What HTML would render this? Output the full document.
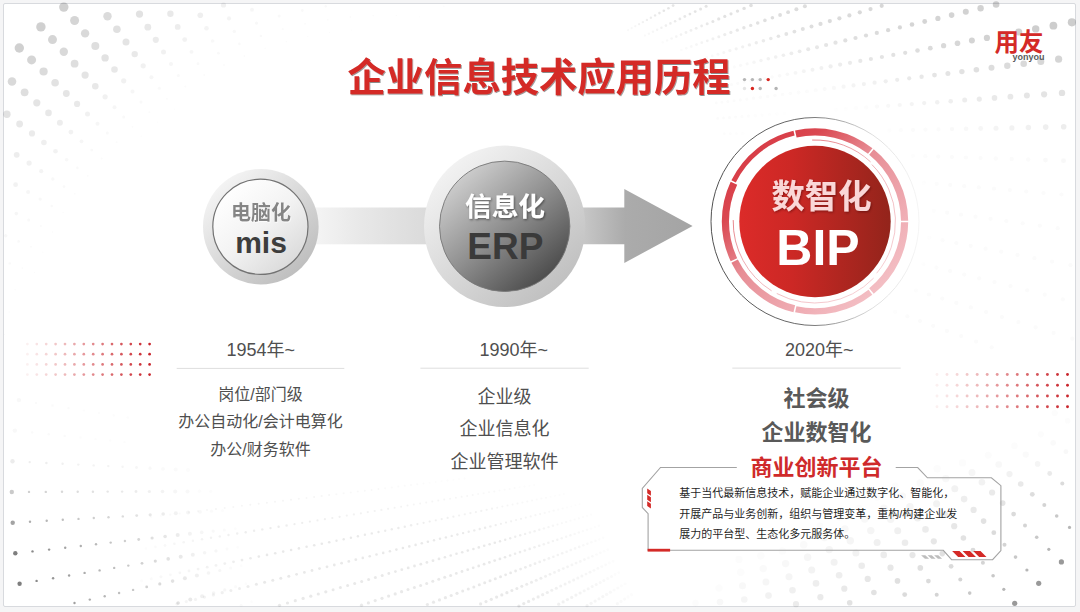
<!DOCTYPE html>
<html lang="zh"><head><meta charset="utf-8"><title>企业信息技术应用历程</title>
<style>
html,body{margin:0;padding:0;background:#f5f5f6;overflow:hidden;}
body{width:1080px;height:612px;position:relative;overflow:hidden;font-family:"Liberation Sans","Noto Sans CJK SC",sans-serif;}
#slide{position:absolute;left:3px;top:3px;width:1073px;height:603.5px;background:#fff;border:1px solid #d8dade;border-radius:2px;box-sizing:border-box;}
svg{position:absolute;left:0;top:0;}
.t{position:absolute;color:transparent;line-height:1.2;overflow:hidden;}
svg text{font-family:"Liberation Sans","Noto Sans CJK SC",sans-serif;}
</style></head><body>
<div id="slide"></div>
<svg width="1080" height="612" viewBox="0 0 1080 612">
<defs>
<linearGradient id="band" gradientUnits="userSpaceOnUse" x1="316" x2="428" y1="0" y2="0"><stop offset="0" stop-color="#f4f4f4"/><stop offset="0.4" stop-color="#e8e8e8"/><stop offset="1" stop-color="#dadada"/></linearGradient>
<linearGradient id="arrow" gradientUnits="userSpaceOnUse" x1="570" x2="693" y1="0" y2="0"><stop offset="0" stop-color="#d2d2d2"/><stop offset="0.12" stop-color="#c6c6c6"/><stop offset="0.45" stop-color="#ababab"/><stop offset="1" stop-color="#a4a4a4"/></linearGradient>
<linearGradient id="c1o" x1="0.15" y1="0.1" x2="0.85" y2="0.9"><stop offset="0" stop-color="#f5f5f5"/><stop offset="1" stop-color="#bdbdbd"/></linearGradient>
<linearGradient id="c1i" x1="0.15" y1="0.1" x2="0.85" y2="0.9"><stop offset="0" stop-color="#ffffff"/><stop offset="0.5" stop-color="#f3f3f3"/><stop offset="1" stop-color="#dadada"/></linearGradient>
<linearGradient id="c2o" x1="0.15" y1="0.1" x2="0.85" y2="0.9"><stop offset="0" stop-color="#f3f3f3"/><stop offset="1" stop-color="#bfbfbf"/></linearGradient>
<linearGradient id="c2i" x1="0.15" y1="0.1" x2="0.85" y2="0.9"><stop offset="0" stop-color="#cfcfcf"/><stop offset="0.5" stop-color="#8f8f8f"/><stop offset="1" stop-color="#4a4a4a"/></linearGradient>
<linearGradient id="disc" x1="0" x2="1" y1="0" y2="0"><stop offset="0" stop-color="#dc2b29"/><stop offset="0.35" stop-color="#cc2825"/><stop offset="1" stop-color="#93241b"/></linearGradient>
<linearGradient id="ring" gradientUnits="userSpaceOnUse" x1="750" y1="150" x2="885" y2="295"><stop offset="0" stop-color="#d83c46"/><stop offset="0.17" stop-color="#da4851"/><stop offset="0.42" stop-color="#e78d95"/><stop offset="0.8" stop-color="#f0b0b7"/><stop offset="1" stop-color="#f4c2c7"/></linearGradient>
<linearGradient id="oline" gradientUnits="userSpaceOnUse" x1="711" y1="0" x2="919" y2="0"><stop offset="0" stop-color="#3c3c3c"/><stop offset="0.45" stop-color="#5a5a5a"/><stop offset="0.78" stop-color="#dcdcdc"/><stop offset="1" stop-color="#f4f4f4"/></linearGradient>
<radialGradient id="halo"><stop offset="0.78" stop-color="#fff"/><stop offset="1" stop-color="#fff" stop-opacity="0"/></radialGradient>
<filter id="ts" x="-5%" y="-20%" width="110%" height="150%"><feDropShadow dx="0.8" dy="1" stdDeviation="0.7" flood-color="#000" flood-opacity="0.45"/></filter>
<filter id="ds" x="-10%" y="-20%" width="120%" height="150%"><feDropShadow dx="1" dy="1.2" stdDeviation="0.9" flood-color="#000" flood-opacity="0.45"/></filter>
<filter id="ds2" x="-10%" y="-20%" width="120%" height="150%"><feDropShadow dx="1" dy="1.2" stdDeviation="0.9" flood-color="#3a0000" flood-opacity="0.45"/></filter>
<filter id="ws" x="-10%" y="-20%" width="120%" height="150%"><feDropShadow dx="0.6" dy="0.8" stdDeviation="0.4" flood-color="#fff" flood-opacity="0.9"/></filter>
</defs>
<g fill="#4a4a4a"><circle cx="4.4" cy="334.4" r="0.6" fill-opacity="0.02"/><circle cx="9.1" cy="312.0" r="0.7" fill-opacity="0.02"/><circle cx="15.1" cy="289.8" r="0.8" fill-opacity="0.02"/><circle cx="34.6" cy="272.6" r="0.6" fill-opacity="0.02"/><circle cx="22.4" cy="268.1" r="0.9" fill-opacity="0.02"/><circle cx="9.7" cy="263.4" r="1.2" fill-opacity="0.03"/><circle cx="42.9" cy="252.1" r="0.7" fill-opacity="0.02"/><circle cx="31.0" cy="246.8" r="1.0" fill-opacity="0.02"/><circle cx="18.6" cy="241.4" r="1.3" fill-opacity="0.03"/><circle cx="5.7" cy="235.8" r="1.7" fill-opacity="0.04"/><circle cx="52.4" cy="232.0" r="0.8" fill-opacity="0.02"/><circle cx="40.8" cy="226.1" r="1.1" fill-opacity="0.02"/><circle cx="28.7" cy="219.9" r="1.5" fill-opacity="0.03"/><circle cx="16.3" cy="213.6" r="1.8" fill-opacity="0.05"/><circle cx="63.1" cy="212.6" r="0.8" fill-opacity="0.02"/><circle cx="51.8" cy="206.0" r="1.2" fill-opacity="0.03"/><circle cx="40.2" cy="199.1" r="1.6" fill-opacity="0.04"/><circle cx="28.1" cy="192.0" r="2.0" fill-opacity="0.05"/><circle cx="15.6" cy="184.7" r="2.4" fill-opacity="0.07"/><circle cx="74.9" cy="193.8" r="0.9" fill-opacity="0.02"/><circle cx="64.0" cy="186.6" r="1.3" fill-opacity="0.03"/><circle cx="52.8" cy="179.0" r="1.7" fill-opacity="0.04"/><circle cx="41.2" cy="171.2" r="2.1" fill-opacity="0.06"/><circle cx="29.1" cy="163.1" r="2.6" fill-opacity="0.08"/><circle cx="16.7" cy="154.8" r="2.9" fill-opacity="0.10"/><circle cx="87.8" cy="175.8" r="0.9" fill-opacity="0.02"/><circle cx="77.4" cy="167.9" r="1.3" fill-opacity="0.03"/><circle cx="66.6" cy="159.7" r="1.8" fill-opacity="0.04"/><circle cx="55.5" cy="151.2" r="2.3" fill-opacity="0.07"/><circle cx="43.9" cy="142.5" r="2.8" fill-opacity="0.09"/><circle cx="32.0" cy="133.4" r="3.1" fill-opacity="0.11"/><circle cx="19.6" cy="124.0" r="3.4" fill-opacity="0.13"/><circle cx="6.9" cy="114.2" r="3.7" fill-opacity="0.16"/><circle cx="101.7" cy="158.6" r="1.0" fill-opacity="0.02"/><circle cx="91.8" cy="150.1" r="1.4" fill-opacity="0.03"/><circle cx="81.5" cy="141.3" r="1.9" fill-opacity="0.05"/><circle cx="70.9" cy="132.1" r="2.4" fill-opacity="0.07"/><circle cx="59.9" cy="122.7" r="3.0" fill-opacity="0.10"/><circle cx="48.5" cy="112.9" r="3.3" fill-opacity="0.13"/><circle cx="36.8" cy="102.8" r="3.6" fill-opacity="0.15"/><circle cx="24.6" cy="92.3" r="3.9" fill-opacity="0.18"/><circle cx="12.0" cy="81.5" r="4.3" fill-opacity="0.21"/><circle cx="116.7" cy="142.2" r="1.0" fill-opacity="0.02"/><circle cx="107.3" cy="133.1" r="1.5" fill-opacity="0.03"/><circle cx="97.5" cy="123.7" r="2.0" fill-opacity="0.05"/><circle cx="87.5" cy="114.0" r="2.5" fill-opacity="0.08"/><circle cx="77.1" cy="103.9" r="3.1" fill-opacity="0.12"/><circle cx="66.3" cy="93.5" r="3.4" fill-opacity="0.14"/><circle cx="55.1" cy="82.7" r="3.8" fill-opacity="0.16"/><circle cx="43.6" cy="71.5" r="4.1" fill-opacity="0.20"/><circle cx="31.6" cy="59.9" r="4.5" fill-opacity="0.23"/><circle cx="19.3" cy="48.0" r="4.7" fill-opacity="0.26"/><circle cx="141.1" cy="136.1" r="0.6" fill-opacity="0.02"/><circle cx="132.5" cy="126.8" r="1.0" fill-opacity="0.02"/><circle cx="123.7" cy="117.1" r="1.5" fill-opacity="0.03"/><circle cx="114.5" cy="107.2" r="2.0" fill-opacity="0.05"/><circle cx="105.1" cy="96.8" r="2.6" fill-opacity="0.08"/><circle cx="95.3" cy="86.2" r="3.3" fill-opacity="0.13"/><circle cx="85.1" cy="75.1" r="3.6" fill-opacity="0.15"/><circle cx="74.6" cy="63.7" r="3.9" fill-opacity="0.18"/><circle cx="63.8" cy="51.8" r="4.2" fill-opacity="0.21"/><circle cx="52.5" cy="39.6" r="4.5" fill-opacity="0.23"/><circle cx="40.9" cy="26.9" r="4.7" fill-opacity="0.26"/><circle cx="157.3" cy="122.1" r="0.6" fill-opacity="0.02"/><circle cx="149.3" cy="112.3" r="1.0" fill-opacity="0.02"/><circle cx="141.0" cy="102.1" r="1.5" fill-opacity="0.03"/><circle cx="132.5" cy="91.6" r="2.0" fill-opacity="0.05"/><circle cx="123.7" cy="80.8" r="2.6" fill-opacity="0.08"/><circle cx="114.5" cy="69.5" r="3.3" fill-opacity="0.13"/><circle cx="105.1" cy="57.9" r="3.7" fill-opacity="0.16"/><circle cx="95.3" cy="45.9" r="4.0" fill-opacity="0.18"/><circle cx="85.1" cy="33.4" r="4.2" fill-opacity="0.21"/><circle cx="74.6" cy="20.5" r="4.5" fill-opacity="0.23"/><circle cx="63.8" cy="7.1" r="4.7" fill-opacity="0.26"/><circle cx="174.3" cy="109.1" r="0.6" fill-opacity="0.02"/><circle cx="166.9" cy="98.8" r="1.0" fill-opacity="0.02"/><circle cx="159.3" cy="88.2" r="1.5" fill-opacity="0.03"/><circle cx="151.4" cy="77.2" r="2.0" fill-opacity="0.05"/><circle cx="143.2" cy="65.8" r="2.6" fill-opacity="0.08"/><circle cx="134.7" cy="54.1" r="3.2" fill-opacity="0.12"/><circle cx="126.0" cy="41.9" r="3.5" fill-opacity="0.15"/><circle cx="116.9" cy="29.3" r="3.8" fill-opacity="0.17"/><circle cx="107.5" cy="16.3" r="4.2" fill-opacity="0.20"/><circle cx="185.3" cy="86.4" r="1.0" fill-opacity="0.02"/><circle cx="178.3" cy="75.4" r="1.5" fill-opacity="0.03"/><circle cx="171.0" cy="63.9" r="2.0" fill-opacity="0.05"/><circle cx="163.5" cy="52.1" r="2.5" fill-opacity="0.08"/><circle cx="155.8" cy="39.8" r="3.1" fill-opacity="0.11"/><circle cx="147.8" cy="27.2" r="3.4" fill-opacity="0.13"/><circle cx="139.5" cy="14.1" r="3.6" fill-opacity="0.16"/><circle cx="204.3" cy="75.1" r="1.0" fill-opacity="0.02"/><circle cx="198.0" cy="63.7" r="1.4" fill-opacity="0.03"/><circle cx="191.5" cy="51.8" r="1.9" fill-opacity="0.05"/><circle cx="184.7" cy="39.6" r="2.4" fill-opacity="0.07"/><circle cx="177.7" cy="26.9" r="2.9" fill-opacity="0.10"/><circle cx="170.4" cy="13.8" r="3.2" fill-opacity="0.12"/><circle cx="224.0" cy="65.0" r="0.9" fill-opacity="0.02"/><circle cx="218.4" cy="53.2" r="1.4" fill-opacity="0.03"/><circle cx="212.6" cy="41.0" r="1.8" fill-opacity="0.04"/><circle cx="206.5" cy="28.3" r="2.3" fill-opacity="0.06"/><circle cx="200.3" cy="15.3" r="2.8" fill-opacity="0.09"/><circle cx="244.3" cy="56.0" r="0.9" fill-opacity="0.02"/><circle cx="239.4" cy="43.9" r="1.3" fill-opacity="0.03"/><circle cx="234.3" cy="31.4" r="1.7" fill-opacity="0.04"/><circle cx="229.0" cy="18.4" r="2.1" fill-opacity="0.06"/><circle cx="223.5" cy="5.0" r="2.6" fill-opacity="0.08"/><circle cx="265.1" cy="48.3" r="0.8" fill-opacity="0.02"/><circle cx="260.9" cy="35.9" r="1.2" fill-opacity="0.03"/><circle cx="256.5" cy="23.1" r="1.6" fill-opacity="0.04"/><circle cx="252.0" cy="9.8" r="2.0" fill-opacity="0.05"/><circle cx="286.3" cy="41.8" r="0.8" fill-opacity="0.02"/><circle cx="282.8" cy="29.2" r="1.1" fill-opacity="0.02"/><circle cx="279.2" cy="16.1" r="1.5" fill-opacity="0.03"/><circle cx="307.8" cy="36.6" r="0.7" fill-opacity="0.02"/><circle cx="305.1" cy="23.8" r="1.0" fill-opacity="0.02"/><circle cx="302.3" cy="10.5" r="1.4" fill-opacity="0.03"/><circle cx="329.6" cy="32.6" r="0.7" fill-opacity="0.02"/><circle cx="327.7" cy="19.7" r="0.9" fill-opacity="0.02"/><circle cx="325.7" cy="6.3" r="1.2" fill-opacity="0.03"/><circle cx="351.6" cy="30.0" r="0.6" fill-opacity="0.02"/><circle cx="350.4" cy="17.0" r="0.9" fill-opacity="0.02"/><circle cx="373.3" cy="15.6" r="0.8" fill-opacity="0.02"/><circle cx="396.3" cy="15.6" r="0.7" fill-opacity="0.02"/><circle cx="419.2" cy="16.9" r="0.6" fill-opacity="0.02"/><circle cx="443.9" cy="6.3" r="0.7" fill-opacity="0.02"/></g>
<g fill="#4a4a4a"><circle cx="673.1" cy="5.6" r="1.4" fill-opacity="0.14"/><circle cx="668.4" cy="8.2" r="1.3" fill-opacity="0.14"/><circle cx="663.8" cy="10.7" r="1.3" fill-opacity="0.14"/><circle cx="659.4" cy="13.1" r="1.3" fill-opacity="0.13"/><circle cx="655.1" cy="15.4" r="1.2" fill-opacity="0.12"/><circle cx="650.9" cy="17.7" r="1.2" fill-opacity="0.10"/><circle cx="646.9" cy="19.9" r="1.2" fill-opacity="0.09"/><circle cx="642.9" cy="22.1" r="1.2" fill-opacity="0.08"/><circle cx="639.1" cy="24.2" r="1.1" fill-opacity="0.07"/><circle cx="635.3" cy="26.2" r="1.1" fill-opacity="0.05"/><circle cx="631.7" cy="28.2" r="1.1" fill-opacity="0.04"/><circle cx="628.1" cy="30.2" r="1.1" fill-opacity="0.03"/><circle cx="706.1" cy="6.3" r="1.5" fill-opacity="0.15"/><circle cx="700.6" cy="9.0" r="1.5" fill-opacity="0.15"/><circle cx="695.2" cy="11.6" r="1.4" fill-opacity="0.15"/><circle cx="689.9" cy="14.1" r="1.4" fill-opacity="0.14"/><circle cx="684.8" cy="16.5" r="1.4" fill-opacity="0.13"/><circle cx="679.9" cy="18.9" r="1.4" fill-opacity="0.12"/><circle cx="675.1" cy="21.2" r="1.3" fill-opacity="0.11"/><circle cx="670.4" cy="23.4" r="1.3" fill-opacity="0.10"/><circle cx="665.9" cy="25.6" r="1.3" fill-opacity="0.09"/><circle cx="661.4" cy="27.7" r="1.2" fill-opacity="0.08"/><circle cx="657.1" cy="29.8" r="1.2" fill-opacity="0.06"/><circle cx="653.0" cy="31.8" r="1.2" fill-opacity="0.05"/><circle cx="648.9" cy="33.7" r="1.2" fill-opacity="0.04"/><circle cx="644.9" cy="35.6" r="1.1" fill-opacity="0.03"/><circle cx="751.0" cy="5.5" r="1.8" fill-opacity="0.17"/><circle cx="744.1" cy="8.4" r="1.7" fill-opacity="0.17"/><circle cx="737.5" cy="11.1" r="1.7" fill-opacity="0.16"/><circle cx="731.0" cy="13.8" r="1.6" fill-opacity="0.16"/><circle cx="724.8" cy="16.4" r="1.6" fill-opacity="0.16"/><circle cx="718.7" cy="18.9" r="1.6" fill-opacity="0.15"/><circle cx="712.9" cy="21.4" r="1.5" fill-opacity="0.14"/><circle cx="707.2" cy="23.7" r="1.5" fill-opacity="0.12"/><circle cx="701.6" cy="26.0" r="1.4" fill-opacity="0.11"/><circle cx="696.2" cy="28.3" r="1.4" fill-opacity="0.10"/><circle cx="691.0" cy="30.4" r="1.4" fill-opacity="0.09"/><circle cx="686.0" cy="32.5" r="1.4" fill-opacity="0.08"/><circle cx="681.0" cy="34.6" r="1.3" fill-opacity="0.07"/><circle cx="676.3" cy="36.6" r="1.3" fill-opacity="0.06"/><circle cx="671.6" cy="38.5" r="1.3" fill-opacity="0.05"/><circle cx="667.1" cy="40.4" r="1.2" fill-opacity="0.03"/><circle cx="662.7" cy="42.2" r="1.2" fill-opacity="0.02"/><circle cx="804.9" cy="6.3" r="2.0" fill-opacity="0.19"/><circle cx="796.4" cy="9.3" r="2.0" fill-opacity="0.19"/><circle cx="788.1" cy="12.2" r="1.9" fill-opacity="0.18"/><circle cx="780.1" cy="15.0" r="1.9" fill-opacity="0.18"/><circle cx="772.4" cy="17.8" r="1.8" fill-opacity="0.18"/><circle cx="764.9" cy="20.4" r="1.8" fill-opacity="0.17"/><circle cx="757.7" cy="23.0" r="1.8" fill-opacity="0.16"/><circle cx="750.7" cy="25.4" r="1.7" fill-opacity="0.15"/><circle cx="743.9" cy="27.8" r="1.7" fill-opacity="0.14"/><circle cx="737.3" cy="30.2" r="1.6" fill-opacity="0.13"/><circle cx="730.9" cy="32.4" r="1.6" fill-opacity="0.11"/><circle cx="724.8" cy="34.6" r="1.6" fill-opacity="0.10"/><circle cx="718.8" cy="36.7" r="1.5" fill-opacity="0.09"/><circle cx="712.9" cy="38.8" r="1.5" fill-opacity="0.08"/><circle cx="707.3" cy="40.8" r="1.4" fill-opacity="0.07"/><circle cx="701.8" cy="42.7" r="1.4" fill-opacity="0.06"/><circle cx="696.5" cy="44.6" r="1.4" fill-opacity="0.05"/><circle cx="691.3" cy="46.5" r="1.4" fill-opacity="0.04"/><circle cx="686.3" cy="48.2" r="1.3" fill-opacity="0.03"/><circle cx="681.4" cy="50.0" r="1.3" fill-opacity="0.02"/><circle cx="881.7" cy="5.8" r="2.1" fill-opacity="0.22"/><circle cx="870.5" cy="9.1" r="2.1" fill-opacity="0.21"/><circle cx="859.8" cy="12.3" r="2.1" fill-opacity="0.21"/><circle cx="849.4" cy="15.4" r="2.1" fill-opacity="0.20"/><circle cx="839.4" cy="18.3" r="2.1" fill-opacity="0.20"/><circle cx="829.8" cy="21.1" r="2.1" fill-opacity="0.20"/><circle cx="820.5" cy="23.9" r="2.1" fill-opacity="0.19"/><circle cx="811.5" cy="26.5" r="2.0" fill-opacity="0.18"/><circle cx="802.8" cy="29.1" r="2.0" fill-opacity="0.17"/><circle cx="794.4" cy="31.6" r="1.9" fill-opacity="0.16"/><circle cx="786.3" cy="34.0" r="1.9" fill-opacity="0.15"/><circle cx="778.4" cy="36.3" r="1.8" fill-opacity="0.14"/><circle cx="770.8" cy="38.5" r="1.8" fill-opacity="0.12"/><circle cx="763.4" cy="40.7" r="1.8" fill-opacity="0.11"/><circle cx="756.3" cy="42.8" r="1.7" fill-opacity="0.10"/><circle cx="749.4" cy="44.9" r="1.7" fill-opacity="0.09"/><circle cx="742.7" cy="46.8" r="1.6" fill-opacity="0.08"/><circle cx="736.2" cy="48.8" r="1.6" fill-opacity="0.07"/><circle cx="729.9" cy="50.6" r="1.6" fill-opacity="0.06"/><circle cx="723.8" cy="52.4" r="1.5" fill-opacity="0.05"/><circle cx="717.9" cy="54.2" r="1.5" fill-opacity="0.04"/><circle cx="712.2" cy="55.9" r="1.4" fill-opacity="0.03"/><circle cx="706.6" cy="57.5" r="1.4" fill-opacity="0.02"/><circle cx="701.2" cy="59.1" r="1.4" fill-opacity="0.02"/><circle cx="924.7" cy="21.5" r="2.4" fill-opacity="0.23"/><circle cx="937.9" cy="18.4" r="2.6" fill-opacity="0.24"/><circle cx="951.6" cy="15.1" r="2.8" fill-opacity="0.24"/><circle cx="965.8" cy="11.7" r="3.0" fill-opacity="0.25"/><circle cx="980.6" cy="8.2" r="3.2" fill-opacity="0.25"/><circle cx="996.1" cy="4.5" r="3.3" fill-opacity="0.26"/><circle cx="912.0" cy="24.5" r="2.3" fill-opacity="0.23"/><circle cx="899.9" cy="27.4" r="2.1" fill-opacity="0.22"/><circle cx="888.1" cy="30.2" r="2.1" fill-opacity="0.21"/><circle cx="876.8" cy="32.9" r="2.1" fill-opacity="0.20"/><circle cx="866.0" cy="35.5" r="2.1" fill-opacity="0.19"/><circle cx="855.5" cy="38.0" r="2.1" fill-opacity="0.18"/><circle cx="845.3" cy="40.4" r="2.1" fill-opacity="0.17"/><circle cx="835.5" cy="42.7" r="2.1" fill-opacity="0.15"/><circle cx="826.1" cy="45.0" r="2.1" fill-opacity="0.14"/><circle cx="817.0" cy="47.2" r="2.0" fill-opacity="0.13"/><circle cx="808.2" cy="49.3" r="2.0" fill-opacity="0.12"/><circle cx="799.6" cy="51.3" r="1.9" fill-opacity="0.11"/><circle cx="791.4" cy="53.3" r="1.9" fill-opacity="0.10"/><circle cx="783.4" cy="55.2" r="1.8" fill-opacity="0.09"/><circle cx="775.7" cy="57.0" r="1.8" fill-opacity="0.08"/><circle cx="768.3" cy="58.8" r="1.8" fill-opacity="0.07"/><circle cx="761.0" cy="60.5" r="1.7" fill-opacity="0.06"/><circle cx="754.0" cy="62.2" r="1.7" fill-opacity="0.05"/><circle cx="747.2" cy="63.8" r="1.6" fill-opacity="0.04"/><circle cx="740.6" cy="65.3" r="1.6" fill-opacity="0.03"/><circle cx="734.3" cy="66.9" r="1.6" fill-opacity="0.02"/><circle cx="728.1" cy="68.3" r="1.5" fill-opacity="0.02"/><circle cx="722.1" cy="69.8" r="1.5" fill-opacity="0.02"/><circle cx="716.2" cy="71.1" r="1.4" fill-opacity="0.02"/><circle cx="710.6" cy="72.5" r="1.4" fill-opacity="0.02"/><circle cx="705.1" cy="73.8" r="1.4" fill-opacity="0.02"/><circle cx="930.3" cy="48.2" r="2.4" fill-opacity="0.20"/><circle cx="943.6" cy="45.7" r="2.6" fill-opacity="0.21"/><circle cx="957.5" cy="43.2" r="2.8" fill-opacity="0.22"/><circle cx="971.9" cy="40.6" r="3.0" fill-opacity="0.24"/><circle cx="986.9" cy="37.9" r="3.1" fill-opacity="0.25"/><circle cx="1002.5" cy="35.0" r="3.3" fill-opacity="0.26"/><circle cx="1018.8" cy="32.0" r="3.5" fill-opacity="0.26"/><circle cx="1035.7" cy="28.9" r="3.7" fill-opacity="0.27"/><circle cx="1053.4" cy="25.7" r="3.9" fill-opacity="0.28"/><circle cx="1071.9" cy="22.3" r="4.1" fill-opacity="0.28"/><circle cx="917.5" cy="50.5" r="2.3" fill-opacity="0.18"/><circle cx="905.2" cy="52.8" r="2.1" fill-opacity="0.17"/><circle cx="893.3" cy="54.9" r="2.1" fill-opacity="0.16"/><circle cx="881.9" cy="57.0" r="2.1" fill-opacity="0.15"/><circle cx="870.9" cy="59.0" r="2.1" fill-opacity="0.14"/><circle cx="860.3" cy="60.9" r="2.1" fill-opacity="0.13"/><circle cx="850.0" cy="62.8" r="2.1" fill-opacity="0.11"/><circle cx="840.1" cy="64.6" r="2.1" fill-opacity="0.10"/><circle cx="830.6" cy="66.4" r="2.1" fill-opacity="0.09"/><circle cx="821.4" cy="68.0" r="2.0" fill-opacity="0.08"/><circle cx="812.5" cy="69.7" r="2.0" fill-opacity="0.07"/><circle cx="803.8" cy="71.2" r="1.9" fill-opacity="0.06"/><circle cx="795.5" cy="72.8" r="1.9" fill-opacity="0.05"/><circle cx="787.4" cy="74.2" r="1.8" fill-opacity="0.04"/><circle cx="779.6" cy="75.7" r="1.8" fill-opacity="0.03"/><circle cx="772.1" cy="77.0" r="1.8" fill-opacity="0.02"/><circle cx="764.8" cy="78.4" r="1.7" fill-opacity="0.02"/><circle cx="757.7" cy="79.7" r="1.7" fill-opacity="0.02"/><circle cx="750.8" cy="80.9" r="1.6" fill-opacity="0.02"/><circle cx="744.2" cy="82.1" r="1.6" fill-opacity="0.02"/><circle cx="737.7" cy="83.3" r="1.6" fill-opacity="0.02"/><circle cx="731.5" cy="84.4" r="1.5" fill-opacity="0.02"/><circle cx="725.4" cy="85.6" r="1.5" fill-opacity="0.02"/><circle cx="719.5" cy="86.6" r="1.4" fill-opacity="0.02"/><circle cx="713.8" cy="87.7" r="1.4" fill-opacity="0.02"/><circle cx="708.2" cy="88.7" r="1.4" fill-opacity="0.02"/><circle cx="934.5" cy="75.1" r="2.4" fill-opacity="0.14"/><circle cx="947.9" cy="73.4" r="2.5" fill-opacity="0.15"/><circle cx="961.9" cy="71.6" r="2.7" fill-opacity="0.16"/><circle cx="976.4" cy="69.7" r="2.8" fill-opacity="0.17"/><circle cx="991.5" cy="67.8" r="3.0" fill-opacity="0.19"/><circle cx="1007.3" cy="65.8" r="3.2" fill-opacity="0.20"/><circle cx="1023.7" cy="63.7" r="3.3" fill-opacity="0.21"/><circle cx="1040.8" cy="61.5" r="3.5" fill-opacity="0.22"/><circle cx="1058.6" cy="59.2" r="3.6" fill-opacity="0.23"/><circle cx="921.6" cy="76.7" r="2.2" fill-opacity="0.13"/><circle cx="909.2" cy="78.3" r="2.1" fill-opacity="0.12"/><circle cx="897.2" cy="79.8" r="2.1" fill-opacity="0.10"/><circle cx="885.7" cy="81.3" r="2.1" fill-opacity="0.09"/><circle cx="874.6" cy="82.7" r="2.1" fill-opacity="0.08"/><circle cx="863.9" cy="84.1" r="2.1" fill-opacity="0.07"/><circle cx="853.5" cy="85.4" r="2.1" fill-opacity="0.06"/><circle cx="843.6" cy="86.7" r="2.1" fill-opacity="0.05"/><circle cx="833.9" cy="87.9" r="2.1" fill-opacity="0.04"/><circle cx="824.6" cy="89.1" r="2.0" fill-opacity="0.03"/><circle cx="815.7" cy="90.3" r="2.0" fill-opacity="0.02"/><circle cx="807.0" cy="91.4" r="1.9" fill-opacity="0.02"/><circle cx="798.6" cy="92.5" r="1.9" fill-opacity="0.02"/><circle cx="790.4" cy="93.5" r="1.8" fill-opacity="0.02"/><circle cx="782.6" cy="94.5" r="1.8" fill-opacity="0.02"/><circle cx="775.0" cy="95.5" r="1.8" fill-opacity="0.02"/><circle cx="767.6" cy="96.4" r="1.7" fill-opacity="0.02"/><circle cx="760.4" cy="97.3" r="1.7" fill-opacity="0.02"/><circle cx="753.5" cy="98.2" r="1.6" fill-opacity="0.02"/><circle cx="746.8" cy="99.1" r="1.6" fill-opacity="0.02"/><circle cx="740.3" cy="99.9" r="1.6" fill-opacity="0.02"/><circle cx="734.0" cy="100.7" r="1.5" fill-opacity="0.02"/><circle cx="727.9" cy="101.5" r="1.5" fill-opacity="0.02"/><circle cx="721.9" cy="102.3" r="1.4" fill-opacity="0.02"/><circle cx="716.2" cy="103.0" r="1.4" fill-opacity="0.02"/><circle cx="937.2" cy="102.2" r="2.2" fill-opacity="0.08"/><circle cx="950.7" cy="101.2" r="2.3" fill-opacity="0.09"/><circle cx="964.7" cy="100.1" r="2.5" fill-opacity="0.10"/><circle cx="979.3" cy="99.1" r="2.6" fill-opacity="0.11"/><circle cx="994.5" cy="97.9" r="2.8" fill-opacity="0.12"/><circle cx="1010.4" cy="96.7" r="2.9" fill-opacity="0.13"/><circle cx="1026.9" cy="95.5" r="3.0" fill-opacity="0.14"/><circle cx="1044.1" cy="94.3" r="3.1" fill-opacity="0.15"/><circle cx="1062.0" cy="92.9" r="3.2" fill-opacity="0.16"/><circle cx="924.2" cy="103.1" r="2.1" fill-opacity="0.07"/><circle cx="911.8" cy="104.1" r="2.1" fill-opacity="0.06"/><circle cx="899.7" cy="105.0" r="2.1" fill-opacity="0.05"/><circle cx="888.2" cy="105.8" r="2.1" fill-opacity="0.04"/><circle cx="877.0" cy="106.6" r="2.1" fill-opacity="0.03"/><circle cx="866.2" cy="107.4" r="2.1" fill-opacity="0.02"/><circle cx="855.8" cy="108.2" r="2.1" fill-opacity="0.02"/><circle cx="845.8" cy="109.0" r="2.1" fill-opacity="0.02"/><circle cx="836.1" cy="109.7" r="2.1" fill-opacity="0.02"/><circle cx="784.5" cy="113.5" r="1.8" fill-opacity="0.02"/><circle cx="776.8" cy="114.1" r="1.8" fill-opacity="0.02"/><circle cx="769.4" cy="114.6" r="1.7" fill-opacity="0.02"/><circle cx="762.2" cy="115.1" r="1.7" fill-opacity="0.02"/><circle cx="755.3" cy="115.7" r="1.6" fill-opacity="0.02"/><circle cx="748.5" cy="116.2" r="1.6" fill-opacity="0.02"/><circle cx="742.0" cy="116.6" r="1.6" fill-opacity="0.02"/><circle cx="735.6" cy="117.1" r="1.5" fill-opacity="0.02"/><circle cx="729.5" cy="117.6" r="1.5" fill-opacity="0.02"/><circle cx="723.5" cy="118.0" r="1.4" fill-opacity="0.02"/><circle cx="717.7" cy="118.4" r="1.4" fill-opacity="0.02"/><circle cx="938.5" cy="129.4" r="2.1" fill-opacity="0.02"/><circle cx="952.0" cy="129.1" r="2.1" fill-opacity="0.03"/><circle cx="966.1" cy="128.8" r="2.3" fill-opacity="0.04"/><circle cx="980.7" cy="128.5" r="2.4" fill-opacity="0.05"/><circle cx="996.0" cy="128.2" r="2.5" fill-opacity="0.06"/><circle cx="1011.9" cy="127.9" r="2.6" fill-opacity="0.07"/><circle cx="1028.4" cy="127.5" r="2.7" fill-opacity="0.08"/><circle cx="1045.7" cy="127.1" r="2.8" fill-opacity="0.09"/><circle cx="1063.7" cy="126.8" r="2.8" fill-opacity="0.10"/><circle cx="925.5" cy="129.6" r="2.1" fill-opacity="0.02"/><circle cx="913.0" cy="129.9" r="2.1" fill-opacity="0.02"/><circle cx="900.9" cy="130.2" r="2.1" fill-opacity="0.02"/><circle cx="889.3" cy="130.4" r="2.1" fill-opacity="0.02"/><circle cx="742.8" cy="133.4" r="1.6" fill-opacity="0.02"/><circle cx="736.4" cy="133.6" r="1.5" fill-opacity="0.02"/><circle cx="730.3" cy="133.7" r="1.5" fill-opacity="0.02"/><circle cx="724.3" cy="133.8" r="1.4" fill-opacity="0.02"/><circle cx="938.3" cy="156.6" r="2.1" fill-opacity="0.02"/><circle cx="951.9" cy="157.0" r="2.1" fill-opacity="0.02"/><circle cx="965.9" cy="157.5" r="2.1" fill-opacity="0.02"/><circle cx="980.6" cy="158.0" r="2.1" fill-opacity="0.02"/><circle cx="995.8" cy="158.5" r="2.2" fill-opacity="0.02"/><circle cx="1011.7" cy="159.0" r="2.2" fill-opacity="0.02"/><circle cx="1028.2" cy="159.5" r="2.3" fill-opacity="0.02"/><circle cx="1045.5" cy="160.1" r="2.4" fill-opacity="0.03"/><circle cx="1063.5" cy="160.7" r="2.4" fill-opacity="0.04"/><circle cx="925.3" cy="156.2" r="2.1" fill-opacity="0.02"/><circle cx="912.8" cy="155.8" r="2.1" fill-opacity="0.02"/><circle cx="936.7" cy="183.8" r="2.1" fill-opacity="0.02"/><circle cx="950.2" cy="184.9" r="2.1" fill-opacity="0.02"/><circle cx="964.2" cy="186.2" r="2.1" fill-opacity="0.02"/><circle cx="978.8" cy="187.4" r="2.1" fill-opacity="0.02"/><circle cx="994.0" cy="188.7" r="2.1" fill-opacity="0.02"/><circle cx="1009.8" cy="190.1" r="2.1" fill-opacity="0.02"/><circle cx="1026.3" cy="191.5" r="2.1" fill-opacity="0.02"/><circle cx="1043.5" cy="193.0" r="2.1" fill-opacity="0.02"/><circle cx="1061.5" cy="194.5" r="2.1" fill-opacity="0.02"/><circle cx="923.8" cy="182.7" r="2.1" fill-opacity="0.02"/><circle cx="933.7" cy="210.8" r="2.1" fill-opacity="0.02"/><circle cx="947.1" cy="212.7" r="2.1" fill-opacity="0.02"/><circle cx="961.0" cy="214.7" r="2.1" fill-opacity="0.02"/><circle cx="975.5" cy="216.7" r="2.1" fill-opacity="0.02"/><circle cx="990.6" cy="218.8" r="2.1" fill-opacity="0.02"/><circle cx="1006.3" cy="221.0" r="2.1" fill-opacity="0.02"/><circle cx="1022.7" cy="223.3" r="2.1" fill-opacity="0.02"/><circle cx="1039.8" cy="225.7" r="2.1" fill-opacity="0.02"/><circle cx="1057.7" cy="228.2" r="2.1" fill-opacity="0.02"/><circle cx="929.2" cy="237.7" r="2.1" fill-opacity="0.02"/><circle cx="942.5" cy="240.3" r="2.1" fill-opacity="0.02"/><circle cx="956.3" cy="243.0" r="2.1" fill-opacity="0.02"/><circle cx="970.7" cy="245.8" r="2.1" fill-opacity="0.02"/><circle cx="985.6" cy="248.7" r="2.1" fill-opacity="0.02"/><circle cx="1001.2" cy="251.7" r="2.1" fill-opacity="0.02"/><circle cx="1017.5" cy="254.9" r="2.1" fill-opacity="0.02"/><circle cx="1034.4" cy="258.2" r="2.1" fill-opacity="0.02"/><circle cx="1052.1" cy="261.6" r="2.1" fill-opacity="0.02"/><circle cx="1070.5" cy="265.2" r="2.1" fill-opacity="0.02"/><circle cx="923.3" cy="264.3" r="2.1" fill-opacity="0.02"/><circle cx="936.4" cy="267.6" r="2.1" fill-opacity="0.02"/><circle cx="950.1" cy="271.0" r="2.1" fill-opacity="0.02"/><circle cx="964.3" cy="274.6" r="2.1" fill-opacity="0.02"/><circle cx="979.1" cy="278.3" r="2.1" fill-opacity="0.02"/><circle cx="994.5" cy="282.1" r="2.1" fill-opacity="0.02"/><circle cx="1010.5" cy="286.1" r="2.1" fill-opacity="0.02"/><circle cx="1027.2" cy="290.3" r="2.1" fill-opacity="0.02"/><circle cx="1044.7" cy="294.7" r="2.1" fill-opacity="0.02"/><circle cx="1062.9" cy="299.3" r="2.1" fill-opacity="0.02"/><circle cx="916.0" cy="290.5" r="2.1" fill-opacity="0.02"/><circle cx="928.9" cy="294.5" r="2.1" fill-opacity="0.02"/><circle cx="942.3" cy="298.6" r="2.1" fill-opacity="0.02"/><circle cx="956.3" cy="302.9" r="2.1" fill-opacity="0.02"/><circle cx="970.9" cy="307.4" r="2.1" fill-opacity="0.02"/><circle cx="986.1" cy="312.1" r="2.1" fill-opacity="0.02"/><circle cx="1001.9" cy="317.0" r="2.1" fill-opacity="0.02"/><circle cx="1018.4" cy="322.1" r="2.1" fill-opacity="0.02"/><circle cx="1035.6" cy="327.3" r="2.1" fill-opacity="0.02"/><circle cx="1053.6" cy="332.9" r="2.1" fill-opacity="0.02"/><circle cx="1072.3" cy="338.7" r="2.1" fill-opacity="0.02"/><circle cx="907.3" cy="316.3" r="2.1" fill-opacity="0.02"/><circle cx="920.0" cy="321.0" r="2.1" fill-opacity="0.02"/><circle cx="933.2" cy="325.8" r="2.1" fill-opacity="0.02"/><circle cx="946.9" cy="330.9" r="2.1" fill-opacity="0.02"/><circle cx="961.2" cy="336.1" r="2.1" fill-opacity="0.02"/><circle cx="976.1" cy="341.6" r="2.1" fill-opacity="0.02"/><circle cx="991.7" cy="347.3" r="2.1" fill-opacity="0.02"/><circle cx="895.1" cy="311.8" r="2.1" fill-opacity="0.02"/></g>
<g fill="#555"><circle cx="251.5" cy="601.8" r="1.3" fill-opacity="0.02"/><circle cx="241.2" cy="605.3" r="1.5" fill-opacity="0.03"/><circle cx="245.9" cy="583.9" r="1.3" fill-opacity="0.02"/><circle cx="235.5" cy="586.8" r="1.5" fill-opacity="0.03"/><circle cx="224.7" cy="589.9" r="1.6" fill-opacity="0.05"/><circle cx="213.6" cy="593.0" r="1.8" fill-opacity="0.06"/><circle cx="202.1" cy="596.2" r="2.0" fill-opacity="0.09"/><circle cx="190.3" cy="599.5" r="2.0" fill-opacity="0.13"/><circle cx="178.1" cy="603.0" r="1.8" fill-opacity="0.17"/><circle cx="241.3" cy="565.7" r="1.3" fill-opacity="0.02"/><circle cx="230.7" cy="568.1" r="1.5" fill-opacity="0.03"/><circle cx="219.8" cy="570.5" r="1.6" fill-opacity="0.05"/><circle cx="208.5" cy="573.0" r="1.8" fill-opacity="0.06"/><circle cx="196.9" cy="575.6" r="2.0" fill-opacity="0.09"/><circle cx="184.9" cy="578.3" r="2.0" fill-opacity="0.13"/><circle cx="172.6" cy="581.1" r="1.8" fill-opacity="0.17"/><circle cx="159.8" cy="583.9" r="1.6" fill-opacity="0.22"/><circle cx="146.7" cy="586.9" r="1.4" fill-opacity="0.27"/><circle cx="133.1" cy="589.9" r="1.2" fill-opacity="0.32"/><circle cx="119.1" cy="593.0" r="1.2" fill-opacity="0.38"/><circle cx="104.7" cy="596.2" r="1.2" fill-opacity="0.43"/><circle cx="89.8" cy="599.6" r="1.2" fill-opacity="0.49"/><circle cx="74.5" cy="603.0" r="1.2" fill-opacity="0.56"/><circle cx="237.7" cy="547.3" r="1.3" fill-opacity="0.02"/><circle cx="227.0" cy="549.1" r="1.5" fill-opacity="0.03"/><circle cx="216.0" cy="550.9" r="1.6" fill-opacity="0.05"/><circle cx="204.6" cy="552.8" r="1.8" fill-opacity="0.06"/><circle cx="192.8" cy="554.8" r="2.0" fill-opacity="0.09"/><circle cx="180.7" cy="556.8" r="2.0" fill-opacity="0.13"/><circle cx="168.2" cy="558.9" r="1.8" fill-opacity="0.17"/><circle cx="155.3" cy="561.1" r="1.6" fill-opacity="0.22"/><circle cx="142.0" cy="563.3" r="1.4" fill-opacity="0.27"/><circle cx="128.3" cy="565.6" r="1.2" fill-opacity="0.32"/><circle cx="114.2" cy="567.9" r="1.2" fill-opacity="0.38"/><circle cx="99.6" cy="570.4" r="1.2" fill-opacity="0.43"/><circle cx="84.6" cy="572.9" r="1.2" fill-opacity="0.49"/><circle cx="69.1" cy="575.5" r="1.2" fill-opacity="0.56"/><circle cx="53.1" cy="578.2" r="1.2" fill-opacity="0.62"/><circle cx="36.6" cy="580.9" r="1.2" fill-opacity="0.69"/><circle cx="19.6" cy="583.8" r="2.2" fill-opacity="0.76"/><circle cx="235.2" cy="528.7" r="1.3" fill-opacity="0.02"/><circle cx="224.4" cy="529.9" r="1.5" fill-opacity="0.03"/><circle cx="213.2" cy="531.1" r="1.6" fill-opacity="0.04"/><circle cx="201.7" cy="532.4" r="1.8" fill-opacity="0.05"/><circle cx="189.9" cy="533.8" r="2.0" fill-opacity="0.07"/><circle cx="177.7" cy="535.1" r="2.0" fill-opacity="0.11"/><circle cx="165.1" cy="536.5" r="1.8" fill-opacity="0.15"/><circle cx="152.1" cy="538.0" r="1.6" fill-opacity="0.19"/><circle cx="138.7" cy="539.5" r="1.4" fill-opacity="0.24"/><circle cx="124.9" cy="541.0" r="1.2" fill-opacity="0.29"/><circle cx="110.7" cy="542.6" r="1.2" fill-opacity="0.35"/><circle cx="96.0" cy="544.3" r="1.2" fill-opacity="0.41"/><circle cx="80.8" cy="546.0" r="1.2" fill-opacity="0.47"/><circle cx="65.2" cy="547.7" r="1.2" fill-opacity="0.54"/><circle cx="49.1" cy="549.6" r="1.2" fill-opacity="0.62"/><circle cx="32.5" cy="551.4" r="1.2" fill-opacity="0.69"/><circle cx="15.3" cy="553.3" r="2.2" fill-opacity="0.76"/><circle cx="222.7" cy="510.6" r="1.5" fill-opacity="0.02"/><circle cx="211.5" cy="511.2" r="1.6" fill-opacity="0.03"/><circle cx="200.0" cy="511.9" r="1.8" fill-opacity="0.04"/><circle cx="188.1" cy="512.6" r="2.0" fill-opacity="0.06"/><circle cx="175.8" cy="513.3" r="2.0" fill-opacity="0.08"/><circle cx="163.2" cy="514.0" r="1.8" fill-opacity="0.11"/><circle cx="150.2" cy="514.8" r="1.6" fill-opacity="0.14"/><circle cx="136.7" cy="515.6" r="1.4" fill-opacity="0.17"/><circle cx="122.8" cy="516.4" r="1.2" fill-opacity="0.21"/><circle cx="108.5" cy="517.2" r="1.2" fill-opacity="0.25"/><circle cx="93.8" cy="518.0" r="1.2" fill-opacity="0.29"/><circle cx="78.5" cy="518.9" r="1.2" fill-opacity="0.33"/><circle cx="62.8" cy="519.8" r="1.2" fill-opacity="0.38"/><circle cx="46.7" cy="520.8" r="1.2" fill-opacity="0.43"/><circle cx="30.0" cy="521.7" r="1.2" fill-opacity="0.48"/><circle cx="12.7" cy="522.7" r="2.2" fill-opacity="0.54"/><circle cx="210.9" cy="491.3" r="1.6" fill-opacity="0.02"/><circle cx="199.4" cy="491.3" r="1.8" fill-opacity="0.02"/><circle cx="187.5" cy="491.4" r="2.0" fill-opacity="0.04"/><circle cx="175.2" cy="491.4" r="2.0" fill-opacity="0.05"/><circle cx="162.5" cy="491.5" r="1.8" fill-opacity="0.07"/><circle cx="149.4" cy="491.5" r="1.6" fill-opacity="0.09"/><circle cx="136.0" cy="491.5" r="1.4" fill-opacity="0.11"/><circle cx="122.1" cy="491.6" r="1.2" fill-opacity="0.13"/><circle cx="107.7" cy="491.6" r="1.2" fill-opacity="0.15"/><circle cx="92.9" cy="491.7" r="1.2" fill-opacity="0.18"/><circle cx="77.7" cy="491.8" r="1.2" fill-opacity="0.20"/><circle cx="62.0" cy="491.8" r="1.2" fill-opacity="0.23"/><circle cx="45.8" cy="491.9" r="1.2" fill-opacity="0.25"/><circle cx="29.0" cy="491.9" r="1.2" fill-opacity="0.28"/><circle cx="11.8" cy="492.0" r="2.2" fill-opacity="0.31"/><circle cx="188.0" cy="470.1" r="2.0" fill-opacity="0.02"/><circle cx="175.7" cy="469.5" r="2.0" fill-opacity="0.03"/><circle cx="163.0" cy="468.9" r="1.8" fill-opacity="0.03"/><circle cx="150.0" cy="468.2" r="1.6" fill-opacity="0.04"/><circle cx="136.5" cy="467.5" r="1.4" fill-opacity="0.05"/><circle cx="122.6" cy="466.8" r="1.2" fill-opacity="0.06"/><circle cx="108.3" cy="466.1" r="1.2" fill-opacity="0.07"/><circle cx="93.6" cy="465.4" r="1.2" fill-opacity="0.07"/><circle cx="78.3" cy="464.6" r="1.2" fill-opacity="0.08"/><circle cx="62.6" cy="463.8" r="1.2" fill-opacity="0.09"/><circle cx="46.4" cy="463.0" r="1.2" fill-opacity="0.10"/><circle cx="29.7" cy="462.1" r="1.2" fill-opacity="0.10"/><circle cx="12.5" cy="461.3" r="2.2" fill-opacity="0.11"/><circle cx="124.6" cy="442.1" r="1.2" fill-opacity="0.02"/><circle cx="110.3" cy="440.6" r="1.2" fill-opacity="0.02"/><circle cx="95.6" cy="439.1" r="1.2" fill-opacity="0.02"/><circle cx="80.5" cy="437.5" r="1.2" fill-opacity="0.02"/><circle cx="64.8" cy="435.9" r="1.2" fill-opacity="0.03"/><circle cx="48.7" cy="434.2" r="1.2" fill-opacity="0.03"/><circle cx="32.1" cy="432.4" r="1.2" fill-opacity="0.03"/><circle cx="14.9" cy="430.6" r="2.2" fill-opacity="0.04"/><circle cx="127.8" cy="417.6" r="1.2" fill-opacity="0.02"/><circle cx="113.7" cy="415.3" r="1.2" fill-opacity="0.02"/><circle cx="99.1" cy="413.0" r="1.2" fill-opacity="0.02"/><circle cx="84.0" cy="410.6" r="1.2" fill-opacity="0.02"/><circle cx="68.5" cy="408.1" r="1.2" fill-opacity="0.03"/><circle cx="52.5" cy="405.5" r="1.2" fill-opacity="0.03"/><circle cx="36.0" cy="402.9" r="1.2" fill-opacity="0.03"/><circle cx="18.9" cy="400.1" r="2.2" fill-opacity="0.04"/></g>
<g fill="#555"><circle cx="631.6" cy="594.7" r="1.6" fill-opacity="0.02"/><circle cx="628.1" cy="596.9" r="1.6" fill-opacity="0.02"/><circle cx="624.6" cy="599.1" r="1.6" fill-opacity="0.03"/><circle cx="621.0" cy="601.4" r="1.6" fill-opacity="0.03"/><circle cx="617.4" cy="603.7" r="1.6" fill-opacity="0.04"/><circle cx="625.0" cy="583.8" r="1.5" fill-opacity="0.02"/><circle cx="621.4" cy="585.8" r="1.5" fill-opacity="0.02"/><circle cx="617.8" cy="587.9" r="1.5" fill-opacity="0.03"/><circle cx="614.1" cy="590.0" r="1.5" fill-opacity="0.03"/><circle cx="610.4" cy="592.2" r="1.6" fill-opacity="0.04"/><circle cx="606.6" cy="594.4" r="1.6" fill-opacity="0.04"/><circle cx="602.8" cy="596.6" r="1.6" fill-opacity="0.05"/><circle cx="599.0" cy="598.8" r="1.6" fill-opacity="0.05"/><circle cx="595.1" cy="601.1" r="1.6" fill-opacity="0.06"/><circle cx="591.1" cy="603.3" r="1.6" fill-opacity="0.06"/><circle cx="587.1" cy="605.7" r="1.6" fill-opacity="0.07"/><circle cx="618.8" cy="572.6" r="1.4" fill-opacity="0.02"/><circle cx="615.2" cy="574.5" r="1.4" fill-opacity="0.02"/><circle cx="611.5" cy="576.5" r="1.5" fill-opacity="0.03"/><circle cx="607.7" cy="578.4" r="1.5" fill-opacity="0.03"/><circle cx="603.9" cy="580.4" r="1.5" fill-opacity="0.04"/><circle cx="600.1" cy="582.5" r="1.5" fill-opacity="0.04"/><circle cx="596.2" cy="584.5" r="1.5" fill-opacity="0.05"/><circle cx="592.2" cy="586.6" r="1.5" fill-opacity="0.05"/><circle cx="588.2" cy="588.7" r="1.5" fill-opacity="0.06"/><circle cx="584.2" cy="590.8" r="1.5" fill-opacity="0.06"/><circle cx="580.1" cy="593.0" r="1.6" fill-opacity="0.07"/><circle cx="575.9" cy="595.1" r="1.6" fill-opacity="0.07"/><circle cx="571.7" cy="597.4" r="1.6" fill-opacity="0.08"/><circle cx="567.4" cy="599.6" r="1.6" fill-opacity="0.08"/><circle cx="563.1" cy="601.9" r="1.6" fill-opacity="0.09"/><circle cx="558.7" cy="604.2" r="1.6" fill-opacity="0.09"/><circle cx="613.1" cy="561.2" r="1.4" fill-opacity="0.02"/><circle cx="609.4" cy="563.0" r="1.4" fill-opacity="0.02"/><circle cx="605.6" cy="564.8" r="1.4" fill-opacity="0.03"/><circle cx="601.8" cy="566.6" r="1.4" fill-opacity="0.03"/><circle cx="597.9" cy="568.4" r="1.4" fill-opacity="0.04"/><circle cx="594.0" cy="570.3" r="1.4" fill-opacity="0.04"/><circle cx="590.0" cy="572.2" r="1.4" fill-opacity="0.05"/><circle cx="586.0" cy="574.1" r="1.4" fill-opacity="0.05"/><circle cx="581.9" cy="576.0" r="1.5" fill-opacity="0.06"/><circle cx="577.8" cy="578.0" r="1.5" fill-opacity="0.06"/><circle cx="573.6" cy="580.0" r="1.5" fill-opacity="0.07"/><circle cx="569.4" cy="582.0" r="1.5" fill-opacity="0.07"/><circle cx="565.1" cy="584.0" r="1.5" fill-opacity="0.08"/><circle cx="560.7" cy="586.1" r="1.5" fill-opacity="0.08"/><circle cx="556.3" cy="588.2" r="1.5" fill-opacity="0.09"/><circle cx="551.8" cy="590.3" r="1.5" fill-opacity="0.09"/><circle cx="547.3" cy="592.5" r="1.6" fill-opacity="0.10"/><circle cx="542.7" cy="594.7" r="1.6" fill-opacity="0.10"/><circle cx="538.1" cy="596.9" r="1.6" fill-opacity="0.11"/><circle cx="533.4" cy="599.1" r="1.6" fill-opacity="0.11"/><circle cx="528.6" cy="601.4" r="1.6" fill-opacity="0.12"/><circle cx="523.8" cy="603.6" r="1.6" fill-opacity="0.13"/><circle cx="518.9" cy="606.0" r="1.6" fill-opacity="0.13"/><circle cx="607.9" cy="549.6" r="1.3" fill-opacity="0.02"/><circle cx="604.1" cy="551.2" r="1.3" fill-opacity="0.02"/><circle cx="600.3" cy="552.8" r="1.3" fill-opacity="0.03"/><circle cx="596.4" cy="554.5" r="1.3" fill-opacity="0.03"/><circle cx="592.4" cy="556.2" r="1.3" fill-opacity="0.04"/><circle cx="588.4" cy="557.9" r="1.3" fill-opacity="0.04"/><circle cx="584.4" cy="559.6" r="1.4" fill-opacity="0.05"/><circle cx="580.3" cy="561.4" r="1.4" fill-opacity="0.05"/><circle cx="576.1" cy="563.1" r="1.4" fill-opacity="0.06"/><circle cx="571.9" cy="564.9" r="1.4" fill-opacity="0.06"/><circle cx="567.6" cy="566.8" r="1.4" fill-opacity="0.07"/><circle cx="563.3" cy="568.6" r="1.4" fill-opacity="0.07"/><circle cx="558.9" cy="570.5" r="1.4" fill-opacity="0.08"/><circle cx="554.5" cy="572.4" r="1.4" fill-opacity="0.08"/><circle cx="550.0" cy="574.3" r="1.4" fill-opacity="0.09"/><circle cx="545.5" cy="576.2" r="1.5" fill-opacity="0.09"/><circle cx="540.9" cy="578.2" r="1.5" fill-opacity="0.10"/><circle cx="536.2" cy="580.2" r="1.5" fill-opacity="0.10"/><circle cx="531.5" cy="582.2" r="1.5" fill-opacity="0.11"/><circle cx="526.7" cy="584.2" r="1.5" fill-opacity="0.11"/><circle cx="521.8" cy="586.3" r="1.5" fill-opacity="0.12"/><circle cx="516.9" cy="588.4" r="1.5" fill-opacity="0.13"/><circle cx="511.9" cy="590.5" r="1.5" fill-opacity="0.13"/><circle cx="506.9" cy="592.7" r="1.6" fill-opacity="0.13"/><circle cx="501.8" cy="594.9" r="1.6" fill-opacity="0.13"/><circle cx="496.6" cy="597.1" r="1.6" fill-opacity="0.13"/><circle cx="491.3" cy="599.3" r="1.6" fill-opacity="0.13"/><circle cx="486.0" cy="601.6" r="1.6" fill-opacity="0.13"/><circle cx="480.6" cy="603.9" r="1.6" fill-opacity="0.13"/><circle cx="603.1" cy="537.8" r="1.2" fill-opacity="0.02"/><circle cx="599.3" cy="539.2" r="1.2" fill-opacity="0.02"/><circle cx="595.4" cy="540.7" r="1.2" fill-opacity="0.03"/><circle cx="591.4" cy="542.2" r="1.3" fill-opacity="0.03"/><circle cx="587.4" cy="543.7" r="1.3" fill-opacity="0.04"/><circle cx="583.3" cy="545.3" r="1.3" fill-opacity="0.04"/><circle cx="579.2" cy="546.9" r="1.3" fill-opacity="0.05"/><circle cx="575.1" cy="548.4" r="1.3" fill-opacity="0.05"/><circle cx="570.8" cy="550.0" r="1.3" fill-opacity="0.06"/><circle cx="566.6" cy="551.7" r="1.3" fill-opacity="0.06"/><circle cx="562.2" cy="553.3" r="1.3" fill-opacity="0.07"/><circle cx="557.8" cy="555.0" r="1.3" fill-opacity="0.07"/><circle cx="553.4" cy="556.7" r="1.3" fill-opacity="0.08"/><circle cx="548.9" cy="558.4" r="1.4" fill-opacity="0.08"/><circle cx="544.3" cy="560.1" r="1.4" fill-opacity="0.09"/><circle cx="539.7" cy="561.9" r="1.4" fill-opacity="0.09"/><circle cx="535.0" cy="563.7" r="1.4" fill-opacity="0.10"/><circle cx="530.3" cy="565.5" r="1.4" fill-opacity="0.10"/><circle cx="525.4" cy="567.3" r="1.4" fill-opacity="0.11"/><circle cx="520.6" cy="569.1" r="1.4" fill-opacity="0.11"/><circle cx="515.6" cy="571.0" r="1.4" fill-opacity="0.12"/><circle cx="510.6" cy="572.9" r="1.4" fill-opacity="0.13"/><circle cx="505.6" cy="574.8" r="1.4" fill-opacity="0.13"/><circle cx="500.5" cy="576.8" r="1.5" fill-opacity="0.13"/><circle cx="495.3" cy="578.7" r="1.5" fill-opacity="0.13"/><circle cx="490.0" cy="580.7" r="1.5" fill-opacity="0.13"/><circle cx="484.7" cy="582.8" r="1.5" fill-opacity="0.13"/><circle cx="479.3" cy="584.8" r="1.5" fill-opacity="0.13"/><circle cx="473.8" cy="586.9" r="1.5" fill-opacity="0.13"/><circle cx="468.3" cy="589.0" r="1.5" fill-opacity="0.13"/><circle cx="462.7" cy="591.1" r="1.5" fill-opacity="0.13"/><circle cx="457.0" cy="593.3" r="1.6" fill-opacity="0.13"/><circle cx="451.2" cy="595.5" r="1.6" fill-opacity="0.13"/><circle cx="445.4" cy="597.7" r="1.6" fill-opacity="0.13"/><circle cx="439.5" cy="599.9" r="1.6" fill-opacity="0.13"/><circle cx="433.5" cy="602.2" r="1.6" fill-opacity="0.13"/><circle cx="427.4" cy="604.5" r="1.6" fill-opacity="0.13"/><circle cx="598.9" cy="525.8" r="1.2" fill-opacity="0.02"/><circle cx="594.9" cy="527.1" r="1.2" fill-opacity="0.02"/><circle cx="591.0" cy="528.4" r="1.2" fill-opacity="0.02"/><circle cx="587.0" cy="529.7" r="1.2" fill-opacity="0.03"/><circle cx="582.9" cy="531.1" r="1.2" fill-opacity="0.03"/><circle cx="578.8" cy="532.5" r="1.2" fill-opacity="0.04"/><circle cx="574.6" cy="533.9" r="1.2" fill-opacity="0.04"/><circle cx="570.4" cy="535.3" r="1.2" fill-opacity="0.05"/><circle cx="566.1" cy="536.7" r="1.2" fill-opacity="0.05"/><circle cx="561.7" cy="538.2" r="1.2" fill-opacity="0.06"/><circle cx="557.3" cy="539.7" r="1.2" fill-opacity="0.07"/><circle cx="552.9" cy="541.1" r="1.2" fill-opacity="0.07"/><circle cx="548.4" cy="542.7" r="1.3" fill-opacity="0.08"/><circle cx="543.8" cy="544.2" r="1.3" fill-opacity="0.08"/><circle cx="539.2" cy="545.7" r="1.3" fill-opacity="0.09"/><circle cx="534.5" cy="547.3" r="1.3" fill-opacity="0.09"/><circle cx="529.7" cy="548.9" r="1.3" fill-opacity="0.10"/><circle cx="524.9" cy="550.5" r="1.3" fill-opacity="0.10"/><circle cx="520.0" cy="552.1" r="1.3" fill-opacity="0.11"/><circle cx="515.1" cy="553.8" r="1.3" fill-opacity="0.11"/><circle cx="510.1" cy="555.5" r="1.3" fill-opacity="0.12"/><circle cx="505.0" cy="557.2" r="1.3" fill-opacity="0.13"/><circle cx="499.9" cy="558.9" r="1.4" fill-opacity="0.13"/><circle cx="494.7" cy="560.6" r="1.4" fill-opacity="0.13"/><circle cx="489.4" cy="562.4" r="1.4" fill-opacity="0.13"/><circle cx="484.1" cy="564.2" r="1.4" fill-opacity="0.13"/><circle cx="478.7" cy="566.0" r="1.4" fill-opacity="0.13"/><circle cx="473.2" cy="567.8" r="1.4" fill-opacity="0.13"/><circle cx="467.7" cy="569.7" r="1.4" fill-opacity="0.13"/><circle cx="462.0" cy="571.5" r="1.4" fill-opacity="0.13"/><circle cx="456.3" cy="573.4" r="1.4" fill-opacity="0.13"/><circle cx="450.6" cy="575.4" r="1.5" fill-opacity="0.13"/><circle cx="444.7" cy="577.3" r="1.5" fill-opacity="0.13"/><circle cx="438.8" cy="579.3" r="1.5" fill-opacity="0.13"/><circle cx="432.8" cy="581.3" r="1.5" fill-opacity="0.13"/><circle cx="426.7" cy="583.4" r="1.5" fill-opacity="0.13"/><circle cx="420.6" cy="585.4" r="1.5" fill-opacity="0.13"/><circle cx="414.4" cy="587.5" r="1.5" fill-opacity="0.13"/><circle cx="408.0" cy="589.6" r="1.5" fill-opacity="0.13"/><circle cx="401.6" cy="591.7" r="1.6" fill-opacity="0.13"/><circle cx="395.2" cy="593.9" r="1.6" fill-opacity="0.13"/><circle cx="388.6" cy="596.1" r="1.6" fill-opacity="0.13"/><circle cx="382.0" cy="598.3" r="1.6" fill-opacity="0.13"/><circle cx="375.2" cy="600.6" r="1.6" fill-opacity="0.13"/><circle cx="368.4" cy="602.9" r="1.6" fill-opacity="0.13"/><circle cx="361.5" cy="605.2" r="1.6" fill-opacity="0.13"/><circle cx="591.1" cy="514.7" r="1.1" fill-opacity="0.02"/><circle cx="587.1" cy="515.9" r="1.1" fill-opacity="0.02"/><circle cx="583.0" cy="517.1" r="1.1" fill-opacity="0.02"/><circle cx="578.9" cy="518.3" r="1.1" fill-opacity="0.03"/><circle cx="574.7" cy="519.5" r="1.1" fill-opacity="0.03"/><circle cx="570.5" cy="520.7" r="1.1" fill-opacity="0.03"/><circle cx="566.2" cy="522.0" r="1.1" fill-opacity="0.04"/><circle cx="561.9" cy="523.2" r="1.1" fill-opacity="0.04"/><circle cx="557.5" cy="524.5" r="1.1" fill-opacity="0.05"/><circle cx="553.0" cy="525.8" r="1.2" fill-opacity="0.05"/><circle cx="548.5" cy="527.1" r="1.2" fill-opacity="0.06"/><circle cx="543.9" cy="528.4" r="1.2" fill-opacity="0.06"/><circle cx="539.3" cy="529.8" r="1.2" fill-opacity="0.07"/><circle cx="534.6" cy="531.2" r="1.2" fill-opacity="0.08"/><circle cx="529.9" cy="532.5" r="1.2" fill-opacity="0.08"/><circle cx="525.1" cy="533.9" r="1.2" fill-opacity="0.09"/><circle cx="520.2" cy="535.3" r="1.2" fill-opacity="0.10"/><circle cx="515.2" cy="536.8" r="1.2" fill-opacity="0.10"/><circle cx="510.2" cy="538.2" r="1.2" fill-opacity="0.11"/><circle cx="505.2" cy="539.7" r="1.2" fill-opacity="0.12"/><circle cx="500.0" cy="541.2" r="1.2" fill-opacity="0.13"/><circle cx="494.8" cy="542.7" r="1.3" fill-opacity="0.13"/><circle cx="489.6" cy="544.2" r="1.3" fill-opacity="0.13"/><circle cx="484.2" cy="545.8" r="1.3" fill-opacity="0.13"/><circle cx="478.8" cy="547.4" r="1.3" fill-opacity="0.13"/><circle cx="473.4" cy="549.0" r="1.3" fill-opacity="0.13"/><circle cx="467.8" cy="550.6" r="1.3" fill-opacity="0.13"/><circle cx="462.2" cy="552.2" r="1.3" fill-opacity="0.13"/><circle cx="456.5" cy="553.8" r="1.3" fill-opacity="0.13"/><circle cx="450.7" cy="555.5" r="1.3" fill-opacity="0.13"/><circle cx="444.9" cy="557.2" r="1.3" fill-opacity="0.13"/><circle cx="439.0" cy="558.9" r="1.4" fill-opacity="0.13"/><circle cx="433.0" cy="560.7" r="1.4" fill-opacity="0.13"/><circle cx="426.9" cy="562.4" r="1.4" fill-opacity="0.13"/><circle cx="420.8" cy="564.2" r="1.4" fill-opacity="0.13"/><circle cx="414.5" cy="566.0" r="1.4" fill-opacity="0.13"/><circle cx="408.2" cy="567.9" r="1.4" fill-opacity="0.13"/><circle cx="401.8" cy="569.7" r="1.4" fill-opacity="0.13"/><circle cx="395.4" cy="571.6" r="1.4" fill-opacity="0.13"/><circle cx="388.8" cy="573.5" r="1.4" fill-opacity="0.13"/><circle cx="382.2" cy="575.4" r="1.5" fill-opacity="0.13"/><circle cx="375.4" cy="577.4" r="1.5" fill-opacity="0.13"/><circle cx="368.6" cy="579.4" r="1.5" fill-opacity="0.13"/><circle cx="361.7" cy="581.4" r="1.5" fill-opacity="0.13"/><circle cx="354.7" cy="583.4" r="1.5" fill-opacity="0.13"/><circle cx="347.6" cy="585.5" r="1.5" fill-opacity="0.13"/><circle cx="340.4" cy="587.6" r="1.5" fill-opacity="0.13"/><circle cx="333.1" cy="589.7" r="1.5" fill-opacity="0.13"/><circle cx="325.8" cy="591.8" r="1.6" fill-opacity="0.13"/><circle cx="318.3" cy="594.0" r="1.6" fill-opacity="0.13"/><circle cx="310.8" cy="596.2" r="1.6" fill-opacity="0.13"/><circle cx="303.1" cy="598.4" r="1.6" fill-opacity="0.13"/><circle cx="295.3" cy="600.7" r="1.6" fill-opacity="0.13"/><circle cx="287.5" cy="603.0" r="1.6" fill-opacity="0.13"/><circle cx="279.5" cy="605.3" r="1.6" fill-opacity="0.13"/><circle cx="579.6" cy="504.3" r="1.0" fill-opacity="0.02"/><circle cx="575.4" cy="505.3" r="1.0" fill-opacity="0.02"/><circle cx="571.2" cy="506.4" r="1.0" fill-opacity="0.02"/><circle cx="566.9" cy="507.4" r="1.0" fill-opacity="0.02"/><circle cx="562.6" cy="508.5" r="1.1" fill-opacity="0.03"/><circle cx="558.2" cy="509.6" r="1.1" fill-opacity="0.03"/><circle cx="553.7" cy="510.7" r="1.1" fill-opacity="0.04"/><circle cx="549.2" cy="511.8" r="1.1" fill-opacity="0.04"/><circle cx="544.7" cy="512.9" r="1.1" fill-opacity="0.04"/><circle cx="540.1" cy="514.1" r="1.1" fill-opacity="0.05"/><circle cx="535.4" cy="515.2" r="1.1" fill-opacity="0.05"/><circle cx="530.7" cy="516.4" r="1.1" fill-opacity="0.06"/><circle cx="525.8" cy="517.6" r="1.1" fill-opacity="0.06"/><circle cx="521.0" cy="518.8" r="1.1" fill-opacity="0.07"/><circle cx="516.1" cy="520.0" r="1.1" fill-opacity="0.07"/><circle cx="511.1" cy="521.3" r="1.1" fill-opacity="0.08"/><circle cx="506.0" cy="522.5" r="1.1" fill-opacity="0.09"/><circle cx="500.9" cy="523.8" r="1.1" fill-opacity="0.09"/><circle cx="495.7" cy="525.1" r="1.2" fill-opacity="0.10"/><circle cx="490.4" cy="526.4" r="1.2" fill-opacity="0.10"/><circle cx="485.1" cy="527.7" r="1.2" fill-opacity="0.11"/><circle cx="479.7" cy="529.0" r="1.2" fill-opacity="0.11"/><circle cx="474.3" cy="530.4" r="1.2" fill-opacity="0.11"/><circle cx="468.7" cy="531.7" r="1.2" fill-opacity="0.11"/><circle cx="463.1" cy="533.1" r="1.2" fill-opacity="0.12"/><circle cx="457.4" cy="534.5" r="1.2" fill-opacity="0.12"/><circle cx="451.7" cy="535.9" r="1.2" fill-opacity="0.12"/><circle cx="445.9" cy="537.4" r="1.2" fill-opacity="0.13"/><circle cx="440.0" cy="538.8" r="1.2" fill-opacity="0.13"/><circle cx="434.0" cy="540.3" r="1.2" fill-opacity="0.13"/><circle cx="427.9" cy="541.8" r="1.3" fill-opacity="0.13"/><circle cx="421.8" cy="543.3" r="1.3" fill-opacity="0.13"/><circle cx="415.6" cy="544.9" r="1.3" fill-opacity="0.13"/><circle cx="409.3" cy="546.4" r="1.3" fill-opacity="0.13"/><circle cx="402.9" cy="548.0" r="1.3" fill-opacity="0.13"/><circle cx="396.4" cy="549.6" r="1.3" fill-opacity="0.13"/><circle cx="389.9" cy="551.2" r="1.3" fill-opacity="0.13"/><circle cx="383.2" cy="552.9" r="1.3" fill-opacity="0.13"/><circle cx="376.5" cy="554.5" r="1.3" fill-opacity="0.13"/><circle cx="369.7" cy="556.2" r="1.3" fill-opacity="0.13"/><circle cx="362.8" cy="557.9" r="1.3" fill-opacity="0.13"/><circle cx="355.8" cy="559.7" r="1.4" fill-opacity="0.13"/><circle cx="348.8" cy="561.4" r="1.4" fill-opacity="0.13"/><circle cx="341.6" cy="563.2" r="1.4" fill-opacity="0.13"/><circle cx="334.3" cy="565.0" r="1.4" fill-opacity="0.13"/><circle cx="327.0" cy="566.8" r="1.4" fill-opacity="0.13"/><circle cx="319.5" cy="568.6" r="1.4" fill-opacity="0.13"/><circle cx="312.0" cy="570.5" r="1.4" fill-opacity="0.13"/><circle cx="304.4" cy="572.4" r="1.4" fill-opacity="0.13"/><circle cx="296.6" cy="574.3" r="1.4" fill-opacity="0.13"/><circle cx="288.8" cy="576.3" r="1.5" fill-opacity="0.13"/><circle cx="280.8" cy="578.2" r="1.5" fill-opacity="0.13"/><circle cx="272.8" cy="580.2" r="1.5" fill-opacity="0.13"/><circle cx="264.6" cy="582.2" r="1.5" fill-opacity="0.13"/><circle cx="256.4" cy="584.3" r="1.5" fill-opacity="0.12"/><circle cx="248.0" cy="586.4" r="1.5" fill-opacity="0.11"/><circle cx="239.5" cy="588.5" r="1.5" fill-opacity="0.10"/><circle cx="230.9" cy="590.6" r="1.5" fill-opacity="0.10"/><circle cx="222.2" cy="592.7" r="1.6" fill-opacity="0.09"/><circle cx="213.4" cy="594.9" r="1.6" fill-opacity="0.08"/><circle cx="204.5" cy="597.1" r="1.6" fill-opacity="0.07"/><circle cx="195.5" cy="599.4" r="1.6" fill-opacity="0.07"/><circle cx="186.3" cy="601.6" r="1.6" fill-opacity="0.06"/><circle cx="177.0" cy="603.9" r="1.6" fill-opacity="0.05"/><circle cx="563.9" cy="494.0" r="1.0" fill-opacity="0.02"/><circle cx="559.5" cy="494.9" r="1.0" fill-opacity="0.02"/><circle cx="555.1" cy="495.8" r="1.0" fill-opacity="0.02"/><circle cx="550.6" cy="496.7" r="1.0" fill-opacity="0.02"/><circle cx="546.0" cy="497.7" r="1.0" fill-opacity="0.03"/><circle cx="541.4" cy="498.6" r="1.0" fill-opacity="0.03"/><circle cx="536.8" cy="499.6" r="1.0" fill-opacity="0.03"/><circle cx="532.1" cy="500.5" r="1.0" fill-opacity="0.04"/><circle cx="527.3" cy="501.5" r="1.0" fill-opacity="0.04"/><circle cx="522.4" cy="502.5" r="1.0" fill-opacity="0.04"/><circle cx="517.5" cy="503.5" r="1.0" fill-opacity="0.05"/><circle cx="512.6" cy="504.5" r="1.0" fill-opacity="0.05"/><circle cx="507.5" cy="505.6" r="1.0" fill-opacity="0.06"/><circle cx="502.4" cy="506.6" r="1.0" fill-opacity="0.06"/><circle cx="497.2" cy="507.7" r="1.0" fill-opacity="0.06"/><circle cx="492.0" cy="508.7" r="1.1" fill-opacity="0.07"/><circle cx="486.7" cy="509.8" r="1.1" fill-opacity="0.07"/><circle cx="481.3" cy="510.9" r="1.1" fill-opacity="0.08"/><circle cx="475.9" cy="512.1" r="1.1" fill-opacity="0.08"/><circle cx="470.4" cy="513.2" r="1.1" fill-opacity="0.08"/><circle cx="464.8" cy="514.3" r="1.1" fill-opacity="0.08"/><circle cx="459.1" cy="515.5" r="1.1" fill-opacity="0.08"/><circle cx="453.4" cy="516.7" r="1.1" fill-opacity="0.09"/><circle cx="447.6" cy="517.9" r="1.1" fill-opacity="0.09"/><circle cx="441.7" cy="519.1" r="1.1" fill-opacity="0.09"/><circle cx="435.8" cy="520.3" r="1.1" fill-opacity="0.09"/><circle cx="429.7" cy="521.5" r="1.1" fill-opacity="0.10"/><circle cx="423.6" cy="522.8" r="1.1" fill-opacity="0.10"/><circle cx="417.4" cy="524.1" r="1.1" fill-opacity="0.10"/><circle cx="411.1" cy="525.3" r="1.2" fill-opacity="0.10"/><circle cx="404.8" cy="526.7" r="1.2" fill-opacity="0.11"/><circle cx="398.4" cy="528.0" r="1.2" fill-opacity="0.11"/><circle cx="391.8" cy="529.3" r="1.2" fill-opacity="0.11"/><circle cx="385.2" cy="530.7" r="1.2" fill-opacity="0.11"/><circle cx="378.5" cy="532.0" r="1.2" fill-opacity="0.12"/><circle cx="371.8" cy="533.4" r="1.2" fill-opacity="0.12"/><circle cx="364.9" cy="534.8" r="1.2" fill-opacity="0.12"/><circle cx="357.9" cy="536.3" r="1.2" fill-opacity="0.12"/><circle cx="350.9" cy="537.7" r="1.2" fill-opacity="0.13"/><circle cx="343.7" cy="539.2" r="1.2" fill-opacity="0.13"/><circle cx="336.5" cy="540.7" r="1.2" fill-opacity="0.13"/><circle cx="329.2" cy="542.2" r="1.3" fill-opacity="0.13"/><circle cx="321.8" cy="543.7" r="1.3" fill-opacity="0.13"/><circle cx="314.2" cy="545.2" r="1.3" fill-opacity="0.13"/><circle cx="306.6" cy="546.8" r="1.3" fill-opacity="0.13"/><circle cx="298.9" cy="548.4" r="1.3" fill-opacity="0.13"/><circle cx="291.1" cy="550.0" r="1.3" fill-opacity="0.13"/><circle cx="283.2" cy="551.6" r="1.3" fill-opacity="0.13"/><circle cx="275.2" cy="553.3" r="1.3" fill-opacity="0.13"/><circle cx="267.0" cy="554.9" r="1.3" fill-opacity="0.13"/><circle cx="258.8" cy="556.6" r="1.3" fill-opacity="0.12"/><circle cx="250.5" cy="558.3" r="1.3" fill-opacity="0.11"/><circle cx="242.0" cy="560.1" r="1.4" fill-opacity="0.11"/><circle cx="233.5" cy="561.8" r="1.4" fill-opacity="0.10"/><circle cx="224.8" cy="563.6" r="1.4" fill-opacity="0.09"/><circle cx="216.0" cy="565.4" r="1.4" fill-opacity="0.08"/><circle cx="207.2" cy="567.2" r="1.4" fill-opacity="0.08"/><circle cx="198.1" cy="569.1" r="1.4" fill-opacity="0.07"/><circle cx="189.0" cy="570.9" r="1.4" fill-opacity="0.06"/><circle cx="179.8" cy="572.8" r="1.4" fill-opacity="0.05"/><circle cx="170.4" cy="574.8" r="1.4" fill-opacity="0.04"/><circle cx="160.9" cy="576.7" r="1.5" fill-opacity="0.04"/><circle cx="151.3" cy="578.7" r="1.5" fill-opacity="0.03"/><circle cx="141.6" cy="580.7" r="1.5" fill-opacity="0.02"/><circle cx="534.1" cy="484.9" r="1.0" fill-opacity="0.02"/><circle cx="529.3" cy="485.7" r="1.0" fill-opacity="0.02"/><circle cx="524.5" cy="486.5" r="1.0" fill-opacity="0.02"/><circle cx="519.6" cy="487.3" r="1.0" fill-opacity="0.02"/><circle cx="514.7" cy="488.1" r="1.0" fill-opacity="0.03"/><circle cx="509.7" cy="488.9" r="1.0" fill-opacity="0.03"/><circle cx="504.6" cy="489.7" r="1.0" fill-opacity="0.03"/><circle cx="499.5" cy="490.6" r="1.0" fill-opacity="0.03"/><circle cx="494.3" cy="491.4" r="1.0" fill-opacity="0.04"/><circle cx="489.0" cy="492.3" r="1.0" fill-opacity="0.04"/><circle cx="483.6" cy="493.2" r="1.0" fill-opacity="0.04"/><circle cx="478.2" cy="494.1" r="1.0" fill-opacity="0.04"/><circle cx="472.7" cy="495.0" r="1.0" fill-opacity="0.05"/><circle cx="467.2" cy="495.9" r="1.0" fill-opacity="0.05"/><circle cx="461.6" cy="496.8" r="1.0" fill-opacity="0.05"/><circle cx="455.9" cy="497.7" r="1.0" fill-opacity="0.05"/><circle cx="450.1" cy="498.7" r="1.0" fill-opacity="0.05"/><circle cx="444.2" cy="499.6" r="1.0" fill-opacity="0.06"/><circle cx="438.3" cy="500.6" r="1.0" fill-opacity="0.06"/><circle cx="432.3" cy="501.6" r="1.0" fill-opacity="0.06"/><circle cx="426.2" cy="502.6" r="1.0" fill-opacity="0.06"/><circle cx="420.1" cy="503.6" r="1.0" fill-opacity="0.06"/><circle cx="413.8" cy="504.6" r="1.0" fill-opacity="0.06"/><circle cx="407.5" cy="505.6" r="1.0" fill-opacity="0.07"/><circle cx="401.1" cy="506.7" r="1.0" fill-opacity="0.07"/><circle cx="394.6" cy="507.8" r="1.0" fill-opacity="0.07"/><circle cx="388.1" cy="508.8" r="1.1" fill-opacity="0.07"/><circle cx="381.4" cy="509.9" r="1.1" fill-opacity="0.07"/><circle cx="374.7" cy="511.0" r="1.1" fill-opacity="0.08"/><circle cx="367.8" cy="512.1" r="1.1" fill-opacity="0.08"/><circle cx="360.9" cy="513.3" r="1.1" fill-opacity="0.08"/><circle cx="353.9" cy="514.4" r="1.1" fill-opacity="0.08"/><circle cx="346.8" cy="515.6" r="1.1" fill-opacity="0.08"/><circle cx="339.6" cy="516.8" r="1.1" fill-opacity="0.09"/><circle cx="332.3" cy="518.0" r="1.1" fill-opacity="0.09"/><circle cx="324.9" cy="519.2" r="1.1" fill-opacity="0.09"/><circle cx="317.5" cy="520.4" r="1.1" fill-opacity="0.09"/><circle cx="309.9" cy="521.6" r="1.1" fill-opacity="0.10"/><circle cx="302.2" cy="522.9" r="1.1" fill-opacity="0.10"/><circle cx="294.5" cy="524.2" r="1.1" fill-opacity="0.10"/><circle cx="286.6" cy="525.5" r="1.2" fill-opacity="0.10"/><circle cx="278.6" cy="526.8" r="1.2" fill-opacity="0.11"/><circle cx="270.5" cy="528.1" r="1.2" fill-opacity="0.11"/><circle cx="262.3" cy="529.4" r="1.2" fill-opacity="0.10"/><circle cx="254.1" cy="530.8" r="1.2" fill-opacity="0.10"/><circle cx="245.7" cy="532.2" r="1.2" fill-opacity="0.10"/><circle cx="237.2" cy="533.5" r="1.2" fill-opacity="0.09"/><circle cx="228.5" cy="535.0" r="1.2" fill-opacity="0.09"/><circle cx="219.8" cy="536.4" r="1.2" fill-opacity="0.08"/><circle cx="211.0" cy="537.8" r="1.2" fill-opacity="0.08"/><circle cx="202.0" cy="539.3" r="1.2" fill-opacity="0.07"/><circle cx="192.9" cy="540.8" r="1.2" fill-opacity="0.06"/><circle cx="183.7" cy="542.3" r="1.3" fill-opacity="0.06"/><circle cx="174.4" cy="543.8" r="1.3" fill-opacity="0.05"/><circle cx="165.0" cy="545.4" r="1.3" fill-opacity="0.04"/><circle cx="155.4" cy="546.9" r="1.3" fill-opacity="0.03"/><circle cx="145.8" cy="548.5" r="1.3" fill-opacity="0.02"/><circle cx="464.7" cy="478.4" r="1.0" fill-opacity="0.02"/><circle cx="459.0" cy="479.1" r="1.0" fill-opacity="0.02"/><circle cx="453.3" cy="479.8" r="1.0" fill-opacity="0.02"/><circle cx="447.5" cy="480.6" r="1.0" fill-opacity="0.02"/><circle cx="441.6" cy="481.3" r="1.0" fill-opacity="0.02"/><circle cx="435.6" cy="482.0" r="1.0" fill-opacity="0.02"/><circle cx="429.6" cy="482.8" r="1.0" fill-opacity="0.02"/><circle cx="423.5" cy="483.5" r="1.0" fill-opacity="0.03"/><circle cx="417.3" cy="484.3" r="1.0" fill-opacity="0.03"/><circle cx="411.0" cy="485.0" r="1.0" fill-opacity="0.03"/><circle cx="404.7" cy="485.8" r="1.0" fill-opacity="0.03"/><circle cx="398.2" cy="486.6" r="1.0" fill-opacity="0.03"/><circle cx="391.7" cy="487.4" r="1.0" fill-opacity="0.03"/><circle cx="385.1" cy="488.2" r="1.0" fill-opacity="0.03"/><circle cx="378.4" cy="489.0" r="1.0" fill-opacity="0.04"/><circle cx="371.6" cy="489.9" r="1.0" fill-opacity="0.04"/><circle cx="364.8" cy="490.7" r="1.0" fill-opacity="0.04"/><circle cx="357.8" cy="491.6" r="1.0" fill-opacity="0.04"/><circle cx="350.8" cy="492.4" r="1.0" fill-opacity="0.04"/><circle cx="343.6" cy="493.3" r="1.0" fill-opacity="0.04"/><circle cx="336.4" cy="494.2" r="1.0" fill-opacity="0.04"/><circle cx="329.1" cy="495.1" r="1.0" fill-opacity="0.05"/><circle cx="321.6" cy="496.0" r="1.0" fill-opacity="0.05"/><circle cx="314.1" cy="496.9" r="1.0" fill-opacity="0.05"/><circle cx="306.5" cy="497.9" r="1.0" fill-opacity="0.05"/><circle cx="298.8" cy="498.8" r="1.0" fill-opacity="0.05"/><circle cx="291.0" cy="499.8" r="1.0" fill-opacity="0.06"/><circle cx="283.0" cy="500.8" r="1.0" fill-opacity="0.06"/><circle cx="275.0" cy="501.7" r="1.0" fill-opacity="0.06"/><circle cx="266.9" cy="502.7" r="1.0" fill-opacity="0.06"/><circle cx="258.7" cy="503.7" r="1.0" fill-opacity="0.06"/><circle cx="250.3" cy="504.8" r="1.0" fill-opacity="0.06"/><circle cx="241.9" cy="505.8" r="1.0" fill-opacity="0.05"/><circle cx="233.3" cy="506.9" r="1.0" fill-opacity="0.05"/><circle cx="224.7" cy="507.9" r="1.0" fill-opacity="0.05"/><circle cx="215.9" cy="509.0" r="1.1" fill-opacity="0.05"/><circle cx="207.0" cy="510.1" r="1.1" fill-opacity="0.04"/><circle cx="198.0" cy="511.2" r="1.1" fill-opacity="0.04"/><circle cx="188.9" cy="512.3" r="1.1" fill-opacity="0.04"/><circle cx="179.6" cy="513.5" r="1.1" fill-opacity="0.03"/><circle cx="170.2" cy="514.6" r="1.1" fill-opacity="0.03"/><circle cx="160.8" cy="515.8" r="1.1" fill-opacity="0.02"/><circle cx="151.1" cy="516.9" r="1.1" fill-opacity="0.02"/></g>
<g fill="#555"><circle cx="1054.8" cy="413.0" r="3.1" fill-opacity="0.02"/><circle cx="1067.6" cy="420.8" r="2.8" fill-opacity="0.02"/><circle cx="1040.9" cy="434.3" r="3.1" fill-opacity="0.02"/><circle cx="1053.2" cy="442.8" r="2.8" fill-opacity="0.03"/><circle cx="1065.9" cy="451.7" r="2.4" fill-opacity="0.04"/><circle cx="1014.5" cy="445.7" r="3.3" fill-opacity="0.02"/><circle cx="1025.8" cy="454.6" r="3.1" fill-opacity="0.03"/><circle cx="1037.6" cy="463.9" r="2.8" fill-opacity="0.06"/><circle cx="1049.7" cy="473.5" r="2.4" fill-opacity="0.12"/><circle cx="1062.3" cy="483.4" r="2.0" fill-opacity="0.21"/><circle cx="988.3" cy="455.2" r="3.5" fill-opacity="0.02"/><circle cx="998.7" cy="464.5" r="3.3" fill-opacity="0.04"/><circle cx="1009.5" cy="474.1" r="3.1" fill-opacity="0.08"/><circle cx="1020.7" cy="484.0" r="2.8" fill-opacity="0.13"/><circle cx="1032.3" cy="494.3" r="2.4" fill-opacity="0.20"/><circle cx="1044.3" cy="505.0" r="2.0" fill-opacity="0.25"/><circle cx="1056.7" cy="516.0" r="1.8" fill-opacity="0.32"/><circle cx="1069.5" cy="527.4" r="1.6" fill-opacity="0.43"/><circle cx="962.5" cy="462.9" r="3.7" fill-opacity="0.02"/><circle cx="972.0" cy="472.4" r="3.5" fill-opacity="0.05"/><circle cx="981.9" cy="482.3" r="3.3" fill-opacity="0.08"/><circle cx="992.1" cy="492.5" r="3.1" fill-opacity="0.12"/><circle cx="1002.7" cy="503.1" r="2.8" fill-opacity="0.16"/><circle cx="1013.6" cy="514.1" r="2.4" fill-opacity="0.21"/><circle cx="1025.0" cy="525.4" r="2.0" fill-opacity="0.25"/><circle cx="1036.7" cy="537.2" r="1.8" fill-opacity="0.32"/><circle cx="1048.8" cy="549.3" r="1.6" fill-opacity="0.43"/><circle cx="1061.4" cy="561.9" r="2.6" fill-opacity="0.60"/><circle cx="937.2" cy="468.8" r="3.7" fill-opacity="0.02"/><circle cx="945.8" cy="478.6" r="3.7" fill-opacity="0.04"/><circle cx="954.8" cy="488.7" r="3.5" fill-opacity="0.08"/><circle cx="964.1" cy="499.1" r="3.3" fill-opacity="0.10"/><circle cx="973.6" cy="509.9" r="3.1" fill-opacity="0.13"/><circle cx="983.6" cy="521.1" r="2.8" fill-opacity="0.17"/><circle cx="993.8" cy="532.7" r="2.4" fill-opacity="0.21"/><circle cx="1004.5" cy="544.7" r="2.0" fill-opacity="0.25"/><circle cx="1015.5" cy="557.1" r="1.8" fill-opacity="0.32"/><circle cx="1026.9" cy="570.0" r="1.6" fill-opacity="0.43"/><circle cx="1038.7" cy="583.3" r="2.6" fill-opacity="0.60"/><circle cx="920.2" cy="483.0" r="3.7" fill-opacity="0.03"/><circle cx="928.3" cy="493.2" r="3.7" fill-opacity="0.06"/><circle cx="936.6" cy="503.8" r="3.5" fill-opacity="0.08"/><circle cx="945.2" cy="514.8" r="3.3" fill-opacity="0.11"/><circle cx="954.2" cy="526.2" r="3.1" fill-opacity="0.14"/><circle cx="963.4" cy="538.0" r="2.8" fill-opacity="0.17"/><circle cx="973.0" cy="550.1" r="2.4" fill-opacity="0.21"/><circle cx="982.9" cy="562.7" r="2.0" fill-opacity="0.25"/><circle cx="993.1" cy="575.8" r="1.8" fill-opacity="0.32"/><circle cx="1003.8" cy="589.3" r="1.6" fill-opacity="0.43"/><circle cx="1014.7" cy="603.3" r="2.6" fill-opacity="0.60"/><circle cx="895.2" cy="485.8" r="3.3" fill-opacity="0.02"/><circle cx="902.4" cy="496.1" r="3.7" fill-opacity="0.04"/><circle cx="909.9" cy="506.8" r="3.7" fill-opacity="0.06"/><circle cx="917.6" cy="517.9" r="3.5" fill-opacity="0.09"/><circle cx="925.5" cy="529.4" r="3.3" fill-opacity="0.11"/><circle cx="933.8" cy="541.3" r="3.1" fill-opacity="0.14"/><circle cx="942.3" cy="553.6" r="2.8" fill-opacity="0.18"/><circle cx="951.1" cy="566.3" r="2.4" fill-opacity="0.21"/><circle cx="960.3" cy="579.4" r="2.0" fill-opacity="0.25"/><circle cx="969.7" cy="593.1" r="1.8" fill-opacity="0.32"/><circle cx="877.3" cy="497.4" r="3.3" fill-opacity="0.02"/><circle cx="883.9" cy="508.2" r="3.7" fill-opacity="0.04"/><circle cx="890.7" cy="519.3" r="3.7" fill-opacity="0.06"/><circle cx="897.7" cy="530.8" r="3.5" fill-opacity="0.09"/><circle cx="905.0" cy="542.8" r="3.3" fill-opacity="0.11"/><circle cx="912.5" cy="555.1" r="3.1" fill-opacity="0.14"/><circle cx="920.3" cy="567.9" r="2.8" fill-opacity="0.18"/><circle cx="928.4" cy="581.1" r="2.4" fill-opacity="0.21"/><circle cx="936.7" cy="594.8" r="2.0" fill-opacity="0.25"/><circle cx="858.8" cy="508.0" r="3.3" fill-opacity="0.02"/><circle cx="864.7" cy="519.1" r="3.7" fill-opacity="0.04"/><circle cx="870.8" cy="530.6" r="3.7" fill-opacity="0.06"/><circle cx="877.1" cy="542.5" r="3.5" fill-opacity="0.09"/><circle cx="883.7" cy="554.9" r="3.3" fill-opacity="0.11"/><circle cx="890.5" cy="567.7" r="3.1" fill-opacity="0.14"/><circle cx="897.5" cy="580.9" r="2.8" fill-opacity="0.18"/><circle cx="904.7" cy="594.6" r="2.4" fill-opacity="0.21"/><circle cx="839.6" cy="517.4" r="3.3" fill-opacity="0.02"/><circle cx="844.9" cy="528.9" r="3.7" fill-opacity="0.04"/><circle cx="850.3" cy="540.7" r="3.7" fill-opacity="0.06"/><circle cx="855.9" cy="553.0" r="3.5" fill-opacity="0.08"/><circle cx="861.7" cy="565.7" r="3.3" fill-opacity="0.11"/><circle cx="867.7" cy="578.9" r="3.1" fill-opacity="0.14"/><circle cx="873.9" cy="592.5" r="2.8" fill-opacity="0.17"/><circle cx="819.9" cy="525.7" r="3.3" fill-opacity="0.02"/><circle cx="824.5" cy="537.5" r="3.7" fill-opacity="0.04"/><circle cx="829.2" cy="549.6" r="3.7" fill-opacity="0.06"/><circle cx="834.1" cy="562.2" r="3.5" fill-opacity="0.08"/><circle cx="839.1" cy="575.2" r="3.3" fill-opacity="0.10"/><circle cx="844.3" cy="588.7" r="3.1" fill-opacity="0.13"/><circle cx="849.7" cy="602.7" r="2.8" fill-opacity="0.17"/><circle cx="803.7" cy="544.8" r="3.7" fill-opacity="0.03"/><circle cx="807.6" cy="557.3" r="3.7" fill-opacity="0.05"/><circle cx="811.7" cy="570.1" r="3.5" fill-opacity="0.07"/><circle cx="816.0" cy="583.4" r="3.3" fill-opacity="0.10"/><circle cx="820.4" cy="597.2" r="3.1" fill-opacity="0.12"/><circle cx="782.4" cy="551.0" r="3.7" fill-opacity="0.02"/><circle cx="785.6" cy="563.6" r="3.7" fill-opacity="0.04"/><circle cx="789.0" cy="576.7" r="3.5" fill-opacity="0.06"/><circle cx="792.5" cy="590.2" r="3.3" fill-opacity="0.09"/><circle cx="796.0" cy="604.2" r="3.1" fill-opacity="0.11"/><circle cx="760.8" cy="555.8" r="3.7" fill-opacity="0.02"/><circle cx="763.3" cy="568.6" r="3.7" fill-opacity="0.03"/><circle cx="765.9" cy="581.9" r="3.5" fill-opacity="0.05"/><circle cx="768.5" cy="595.6" r="3.3" fill-opacity="0.08"/><circle cx="739.0" cy="559.4" r="3.7" fill-opacity="0.02"/><circle cx="740.7" cy="572.3" r="3.7" fill-opacity="0.02"/><circle cx="742.5" cy="585.7" r="3.5" fill-opacity="0.04"/><circle cx="744.3" cy="599.5" r="3.3" fill-opacity="0.06"/><circle cx="719.0" cy="588.1" r="3.5" fill-opacity="0.02"/><circle cx="720.0" cy="602.0" r="3.3" fill-opacity="0.04"/><circle cx="695.5" cy="603.1" r="3.3" fill-opacity="0.02"/></g>
<g fill="#c9252c"><circle cx="27.4" cy="344.1" r="1.35" fill-opacity="0.07"/><circle cx="27.4" cy="354.2" r="1.35" fill-opacity="0.07"/><circle cx="27.4" cy="364.4" r="1.35" fill-opacity="0.07"/><circle cx="27.4" cy="374.6" r="1.35" fill-opacity="0.07"/><circle cx="36.8" cy="344.1" r="1.35" fill-opacity="0.13"/><circle cx="36.8" cy="354.2" r="1.35" fill-opacity="0.13"/><circle cx="36.8" cy="364.4" r="1.35" fill-opacity="0.13"/><circle cx="36.8" cy="374.6" r="1.35" fill-opacity="0.13"/><circle cx="46.2" cy="344.1" r="1.35" fill-opacity="0.19"/><circle cx="46.2" cy="354.2" r="1.35" fill-opacity="0.19"/><circle cx="46.2" cy="364.4" r="1.35" fill-opacity="0.19"/><circle cx="46.2" cy="374.6" r="1.35" fill-opacity="0.19"/><circle cx="55.6" cy="344.1" r="1.35" fill-opacity="0.26"/><circle cx="55.6" cy="354.2" r="1.35" fill-opacity="0.26"/><circle cx="55.6" cy="364.4" r="1.35" fill-opacity="0.26"/><circle cx="55.6" cy="374.6" r="1.35" fill-opacity="0.26"/><circle cx="65.0" cy="344.1" r="1.35" fill-opacity="0.32"/><circle cx="65.0" cy="354.2" r="1.35" fill-opacity="0.32"/><circle cx="65.0" cy="364.4" r="1.35" fill-opacity="0.32"/><circle cx="65.0" cy="374.6" r="1.35" fill-opacity="0.32"/><circle cx="74.4" cy="344.1" r="1.35" fill-opacity="0.40"/><circle cx="74.4" cy="354.2" r="1.35" fill-opacity="0.40"/><circle cx="74.4" cy="364.4" r="1.35" fill-opacity="0.40"/><circle cx="74.4" cy="374.6" r="1.35" fill-opacity="0.40"/><circle cx="83.8" cy="344.1" r="1.35" fill-opacity="0.47"/><circle cx="83.8" cy="354.2" r="1.35" fill-opacity="0.47"/><circle cx="83.8" cy="364.4" r="1.35" fill-opacity="0.47"/><circle cx="83.8" cy="374.6" r="1.35" fill-opacity="0.47"/><circle cx="93.2" cy="344.1" r="1.35" fill-opacity="0.54"/><circle cx="93.2" cy="354.2" r="1.35" fill-opacity="0.54"/><circle cx="93.2" cy="364.4" r="1.35" fill-opacity="0.54"/><circle cx="93.2" cy="374.6" r="1.35" fill-opacity="0.54"/><circle cx="102.6" cy="344.1" r="1.35" fill-opacity="0.62"/><circle cx="102.6" cy="354.2" r="1.35" fill-opacity="0.62"/><circle cx="102.6" cy="364.4" r="1.35" fill-opacity="0.62"/><circle cx="102.6" cy="374.6" r="1.35" fill-opacity="0.62"/><circle cx="112.0" cy="344.1" r="1.35" fill-opacity="0.69"/><circle cx="112.0" cy="354.2" r="1.35" fill-opacity="0.69"/><circle cx="112.0" cy="364.4" r="1.35" fill-opacity="0.69"/><circle cx="112.0" cy="374.6" r="1.35" fill-opacity="0.69"/><circle cx="121.4" cy="344.1" r="1.35" fill-opacity="0.77"/><circle cx="121.4" cy="354.2" r="1.35" fill-opacity="0.77"/><circle cx="121.4" cy="364.4" r="1.35" fill-opacity="0.77"/><circle cx="121.4" cy="374.6" r="1.35" fill-opacity="0.77"/><circle cx="130.8" cy="344.1" r="1.35" fill-opacity="0.84"/><circle cx="130.8" cy="354.2" r="1.35" fill-opacity="0.84"/><circle cx="130.8" cy="364.4" r="1.35" fill-opacity="0.84"/><circle cx="130.8" cy="374.6" r="1.35" fill-opacity="0.84"/><circle cx="140.2" cy="344.1" r="1.35" fill-opacity="0.92"/><circle cx="140.2" cy="354.2" r="1.35" fill-opacity="0.92"/><circle cx="140.2" cy="364.4" r="1.35" fill-opacity="0.92"/><circle cx="140.2" cy="374.6" r="1.35" fill-opacity="0.92"/><circle cx="149.6" cy="344.1" r="1.35" fill-opacity="1.00"/><circle cx="149.6" cy="354.2" r="1.35" fill-opacity="1.00"/><circle cx="149.6" cy="364.4" r="1.35" fill-opacity="1.00"/><circle cx="149.6" cy="374.6" r="1.35" fill-opacity="1.00"/><circle cx="937.0" cy="374.5" r="1.45" fill-opacity="0.07"/><circle cx="937.0" cy="385.2" r="1.45" fill-opacity="0.07"/><circle cx="937.0" cy="396.0" r="1.45" fill-opacity="0.07"/><circle cx="937.0" cy="406.7" r="1.45" fill-opacity="0.07"/><circle cx="947.0" cy="374.5" r="1.45" fill-opacity="0.13"/><circle cx="947.0" cy="385.2" r="1.45" fill-opacity="0.13"/><circle cx="947.0" cy="396.0" r="1.45" fill-opacity="0.13"/><circle cx="947.0" cy="406.7" r="1.45" fill-opacity="0.13"/><circle cx="957.1" cy="374.5" r="1.45" fill-opacity="0.19"/><circle cx="957.1" cy="385.2" r="1.45" fill-opacity="0.19"/><circle cx="957.1" cy="396.0" r="1.45" fill-opacity="0.19"/><circle cx="957.1" cy="406.7" r="1.45" fill-opacity="0.19"/><circle cx="967.1" cy="374.5" r="1.45" fill-opacity="0.26"/><circle cx="967.1" cy="385.2" r="1.45" fill-opacity="0.26"/><circle cx="967.1" cy="396.0" r="1.45" fill-opacity="0.26"/><circle cx="967.1" cy="406.7" r="1.45" fill-opacity="0.26"/><circle cx="977.2" cy="374.5" r="1.45" fill-opacity="0.32"/><circle cx="977.2" cy="385.2" r="1.45" fill-opacity="0.32"/><circle cx="977.2" cy="396.0" r="1.45" fill-opacity="0.32"/><circle cx="977.2" cy="406.7" r="1.45" fill-opacity="0.32"/><circle cx="987.2" cy="374.5" r="1.45" fill-opacity="0.40"/><circle cx="987.2" cy="385.2" r="1.45" fill-opacity="0.40"/><circle cx="987.2" cy="396.0" r="1.45" fill-opacity="0.40"/><circle cx="987.2" cy="406.7" r="1.45" fill-opacity="0.40"/><circle cx="997.2" cy="374.5" r="1.45" fill-opacity="0.47"/><circle cx="997.2" cy="385.2" r="1.45" fill-opacity="0.47"/><circle cx="997.2" cy="396.0" r="1.45" fill-opacity="0.47"/><circle cx="997.2" cy="406.7" r="1.45" fill-opacity="0.47"/><circle cx="1007.3" cy="374.5" r="1.45" fill-opacity="0.54"/><circle cx="1007.3" cy="385.2" r="1.45" fill-opacity="0.54"/><circle cx="1007.3" cy="396.0" r="1.45" fill-opacity="0.54"/><circle cx="1007.3" cy="406.7" r="1.45" fill-opacity="0.54"/><circle cx="1017.3" cy="374.5" r="1.45" fill-opacity="0.62"/><circle cx="1017.3" cy="385.2" r="1.45" fill-opacity="0.62"/><circle cx="1017.3" cy="396.0" r="1.45" fill-opacity="0.62"/><circle cx="1017.3" cy="406.7" r="1.45" fill-opacity="0.62"/><circle cx="1027.4" cy="374.5" r="1.45" fill-opacity="0.69"/><circle cx="1027.4" cy="385.2" r="1.45" fill-opacity="0.69"/><circle cx="1027.4" cy="396.0" r="1.45" fill-opacity="0.69"/><circle cx="1027.4" cy="406.7" r="1.45" fill-opacity="0.69"/><circle cx="1037.4" cy="374.5" r="1.45" fill-opacity="0.77"/><circle cx="1037.4" cy="385.2" r="1.45" fill-opacity="0.77"/><circle cx="1037.4" cy="396.0" r="1.45" fill-opacity="0.77"/><circle cx="1037.4" cy="406.7" r="1.45" fill-opacity="0.77"/><circle cx="1047.4" cy="374.5" r="1.45" fill-opacity="0.84"/><circle cx="1047.4" cy="385.2" r="1.45" fill-opacity="0.84"/><circle cx="1047.4" cy="396.0" r="1.45" fill-opacity="0.84"/><circle cx="1047.4" cy="406.7" r="1.45" fill-opacity="0.84"/><circle cx="1057.5" cy="374.5" r="1.45" fill-opacity="0.92"/><circle cx="1057.5" cy="385.2" r="1.45" fill-opacity="0.92"/><circle cx="1057.5" cy="396.0" r="1.45" fill-opacity="0.92"/><circle cx="1057.5" cy="406.7" r="1.45" fill-opacity="0.92"/><circle cx="1067.5" cy="374.5" r="1.45" fill-opacity="1.00"/><circle cx="1067.5" cy="385.2" r="1.45" fill-opacity="1.00"/><circle cx="1067.5" cy="396.0" r="1.45" fill-opacity="1.00"/><circle cx="1067.5" cy="406.7" r="1.45" fill-opacity="1.00"/></g>
<text x="347.5" y="91" font-size="38.3" font-weight="bold" fill="#d42a27" filter="url(#ts)">企业信息技术应用历程</text>
<circle cx="744.5" cy="79.6" r="1.7" fill="#b6b6b6"/><circle cx="752.4" cy="79.6" r="1.7" fill="#b6b6b6"/><circle cx="760.2" cy="79.6" r="1.7" fill="#b6b6b6"/><circle cx="768.2" cy="79.6" r="1.7" fill="#d8261f"/><circle cx="744.5" cy="88.5" r="1.7" fill="#e6e6e6"/><circle cx="752.4" cy="88.5" r="1.7" fill="#d8261f"/><circle cx="760.2" cy="88.5" r="1.7" fill="#b6b6b6"/><circle cx="776.1" cy="88.5" r="1.7" fill="#b4b4b4"/>
<text x="994.5" y="50.5" font-size="24.5" font-weight="bold" fill="#d42a27">用友</text>
<text x="1012.5" y="60.1" font-size="9" font-weight="bold" fill="#5a5a5a">yonyou</text>
<circle cx="815" cy="221.5" r="135" fill="url(#halo)"/>
<rect x="300" y="207.5" width="140" height="36.8" fill="url(#band)"/>
<path d="M570 207.6H624.3V189L692.6 226L624.3 263V244.3H570Z" fill="url(#arrow)"/>
<circle cx="260.8" cy="226.7" r="57.8" fill="url(#c1o)"/>
<circle cx="260.4" cy="226.8" r="47.6" fill="url(#c1i)" stroke="#737373" stroke-width="1.2"/>
<text x="261" y="220" font-size="20" font-weight="bold" fill="#858585" text-anchor="middle" filter="url(#ws)">电脑化</text>
<text x="261" y="252.6" font-size="30" font-weight="bold" fill="#3d3d3d" text-anchor="middle">mis</text>
<circle cx="504.7" cy="226.3" r="80.7" fill="url(#c2o)"/>
<circle cx="504.7" cy="226.3" r="65.2" fill="url(#c2i)" stroke="#777" stroke-width="0.9"/>
<text x="505" y="215.5" font-size="26.7" font-weight="bold" fill="#fff" text-anchor="middle" filter="url(#ds)">信息化</text>
<text x="505.4" y="259.3" font-size="37" font-weight="bold" fill="#3a3a3a" text-anchor="middle">ERP</text>
<circle cx="815.0" cy="221.5" r="104" fill="#fff" stroke="url(#oline)" stroke-width="0.9"/>
<path d="M908.20 222.31A93.20 93.20 0 0 1 873.74 293.86L869.20 288.27A86.00 86.00 0 0 0 901.00 222.25ZM872.35 294.71A93.00 93.00 0 0 1 795.10 312.35L796.42 306.29A86.80 86.80 0 0 0 868.52 289.83ZM793.47 312.18A93.20 93.20 0 0 1 731.39 262.67L737.85 259.49A86.00 86.00 0 0 0 795.13 305.17ZM730.68 261.20A93.20 93.20 0 0 1 730.68 181.80L737.19 184.86A86.00 86.00 0 0 0 737.19 258.14ZM731.39 180.33A93.20 93.20 0 0 1 793.47 130.82L794.60 135.59A88.30 88.30 0 0 0 735.78 182.50ZM795.05 130.46A93.20 93.20 0 0 1 872.47 148.13L868.03 153.80A86.00 86.00 0 0 0 796.60 137.49ZM873.74 149.14A93.20 93.20 0 0 1 908.20 220.69L901.00 220.75A86.00 86.00 0 0 0 869.20 154.73Z" fill="url(#ring)"/>
<path d="M812.16 140.05A81.50 81.50 0 0 1 870.58 161.89M871.92 164.58A80.50 80.50 0 0 1 876.67 273.24M873.63 278.11A81.50 81.50 0 0 1 776.74 293.46M771.65 290.87A81.80 81.80 0 0 1 733.21 220.07" fill="none" stroke="url(#ring)" stroke-width="0.7"/>
<circle cx="815.0" cy="221.5" r="75.7" fill="url(#disc)"/>
<text x="821.5" y="207.5" font-size="33.3" font-weight="bold" fill="#fad7d7" text-anchor="middle" filter="url(#ds2)">数智化</text>
<text x="818" y="265.4" font-size="50" font-weight="bold" fill="#fff" text-anchor="middle">BIP</text>
<text x="226.5" y="356.4" font-size="18" fill="#4f4f4f">1954年~</text>
<text x="479.5" y="356.4" font-size="18" fill="#4f4f4f">1990年~</text>
<text x="785" y="356.4" font-size="18" fill="#4f4f4f">2020年~</text>
<rect x="176.7" y="367.9" width="167.6" height="1" fill="#dedede"/>
<rect x="420.4" y="367.7" width="168.3" height="1" fill="#dedede"/>
<rect x="732.3" y="367.6" width="168.4" height="1" fill="#dedede"/>
<text x="260.5" y="399.5" font-size="16" fill="#4f4f4f" text-anchor="middle">岗位/部门级</text>
<text x="260.5" y="427" font-size="16" fill="#4f4f4f" text-anchor="middle">办公自动化/会计电算化</text>
<text x="260.5" y="455.2" font-size="16" fill="#4f4f4f" text-anchor="middle">办公/财务软件</text>
<text x="504.5" y="402.8" font-size="18" fill="#4f4f4f" text-anchor="middle">企业级</text>
<text x="504.5" y="435.2" font-size="18" fill="#4f4f4f" text-anchor="middle">企业信息化</text>
<text x="504.5" y="468" font-size="18" fill="#4f4f4f" text-anchor="middle">企业管理软件</text>
<text x="816.5" y="406" font-size="22" font-weight="bold" fill="#595959" text-anchor="middle">社会级</text>
<text x="816.5" y="440" font-size="22" font-weight="bold" fill="#595959" text-anchor="middle">企业数智化</text>
<text x="816.5" y="474.5" font-size="22" font-weight="bold" fill="#cf2a2a" text-anchor="middle">商业创新平台</text>
<path d="M736.8 467.5H660.5L642.3 488.4V507.5L648.1 513.6V550.3H943.3L951.6 559.7H992.6L1000.9 550.6V485.7L991.4 477.8H927.4L917.7 467.5H895.7" fill="none" stroke="#a3a3a3" stroke-width="1.1"/>
<rect x="647.6" y="548.8" width="22.5" height="2.8" fill="#d42a27"/>
<path d="M647.2 488.4L650.9 490.9V495.8L647.2 493.3ZM647.2 494.8L650.9 497.3V502.2L647.2 499.7ZM647.2 501.2L650.9 503.7V508.6L647.2 506.1ZM952.1 551.1h7.4l6 5.8h-7.4zM962.6 551.1h7.4l6 5.8h-7.4zM973.1 551.1h7.4l6 5.8h-7.4z" fill="#d42a27"/>
<path d="M921.1 555.3h4.2l3.8 3.5h-4.2zM927.6 555.3h4.2l3.8 3.5h-4.2zM934.1 555.3h4.2l3.8 3.5h-4.2z" fill="#bdbdbd"/>
<text x="679.3" y="497.2" font-size="11" fill="#1f1f1f">基于当代最新信息技术，赋能企业通过数字化、智能化，</text>
<text x="679.3" y="517.5" font-size="11" fill="#1f1f1f">开展产品与业务创新，组织与管理变革，重构/构建企业发</text>
<text x="679.3" y="537.8" font-size="11" fill="#1f1f1f">展力的平台型、生态化多元服务体。</text>
</svg>
</body></html>
